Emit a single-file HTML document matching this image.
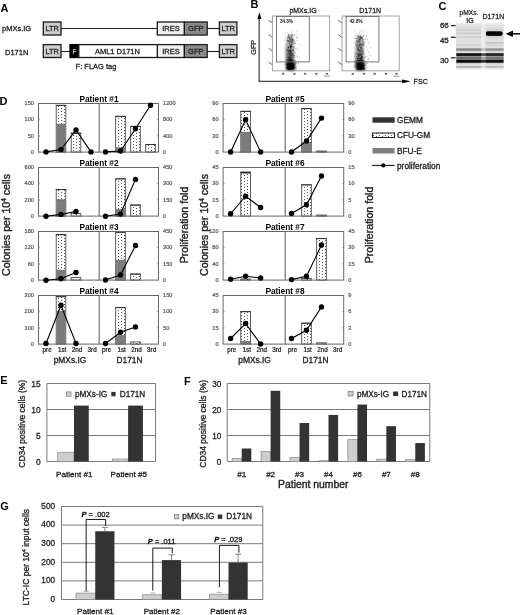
<!DOCTYPE html>
<html><head><meta charset="utf-8"><title>Figure</title>
<style>html,body{margin:0;padding:0;background:#fff;}body{width:520px;height:615px;overflow:hidden;font-family:"Liberation Sans", sans-serif;}svg{display:block;will-change:transform;}</style>
</head><body>
<svg width="520" height="615" viewBox="0 0 520 615" font-family='"Liberation Sans", sans-serif'><defs>
<pattern id="dots" width="6" height="6" patternUnits="userSpaceOnUse" x="0" y="0"><rect width="6" height="6" fill="#fff"/><rect x="1" y="0" width="1" height="1" fill="#555"/><rect x="1" y="3" width="1" height="1" fill="#555"/><rect x="4" y="1" width="1" height="1" fill="#555"/><rect x="4" y="4" width="1" height="1" fill="#555"/></pattern>
<pattern id="ires" width="2" height="2" patternUnits="userSpaceOnUse"><rect width="2" height="2" fill="#f4f4f4"/><rect x="0" y="0" width="0.7" height="0.7" fill="#ddd"/></pattern>
<pattern id="gfp" width="2" height="2" patternUnits="userSpaceOnUse"><rect width="2" height="2" fill="#8c8c8c"/><rect x="0" y="0" width="0.8" height="0.8" fill="#6e6e6e"/><rect x="1" y="1" width="0.6" height="0.6" fill="#a8a8a8"/></pattern>
<filter id="blur15" x="-50%" y="-50%" width="200%" height="200%"><feGaussianBlur stdDeviation="1.3"/></filter>
<linearGradient id="colgrad" x1="0" y1="0" x2="0" y2="1"><stop offset="0" stop-color="#000" stop-opacity="0"/><stop offset="0.3" stop-color="#000" stop-opacity="0.25"/><stop offset="1" stop-color="#000" stop-opacity="0.55"/></linearGradient>
<linearGradient id="bandg" x1="0" y1="0" x2="0" y2="1"><stop offset="0" stop-color="#000" stop-opacity="0"/><stop offset="0.3" stop-color="#000" stop-opacity="0.9"/><stop offset="0.5" stop-color="#000" stop-opacity="1"/><stop offset="0.7" stop-color="#000" stop-opacity="0.9"/><stop offset="1" stop-color="#000" stop-opacity="0"/></linearGradient>
<linearGradient id="blotbg" x1="0" y1="0" x2="0" y2="1"><stop offset="0" stop-color="#e8e8e8"/><stop offset="0.08" stop-color="#e0e0e0"/><stop offset="0.92" stop-color="#e0e0e0"/><stop offset="1" stop-color="#eaeaea"/></linearGradient>
<filter id="blur1" x="-5%" y="-5%" width="110%" height="110%"><feGaussianBlur stdDeviation="0.8"/></filter>
</defs><rect width="520" height="615" fill="#fff"/><text x="0.60" y="12.30" font-size="11" text-anchor="start" font-weight="bold" font-style="normal" fill="#000" >A</text>
<text x="2.00" y="31.00" font-size="7.5" text-anchor="start" font-weight="normal" font-style="normal" fill="#222" stroke="#222" stroke-width="0.27" >pMXs.IG</text>
<text x="5.00" y="54.60" font-size="7.5" text-anchor="start" font-weight="normal" font-style="normal" fill="#222" stroke="#222" stroke-width="0.27" >D171N</text>
<rect x="43.30" y="22.00" width="17.70" height="13.00" fill="#cfcfcf" stroke="#1a1a1a" stroke-width="1.3" />
<text x="52.20" y="31.20" font-size="7.5" text-anchor="middle" font-weight="normal" font-style="normal" fill="#222" stroke="#222" stroke-width="0.27" >LTR</text>
<rect x="157.30" y="22.00" width="27.10" height="13.00" fill="url(#ires)" stroke="#1a1a1a" stroke-width="1.3" />
<text x="170.90" y="31.20" font-size="7.5" text-anchor="middle" font-weight="normal" font-style="normal" fill="#222" stroke="#222" stroke-width="0.27" >IRES</text>
<rect x="184.40" y="22.00" width="22.80" height="13.00" fill="url(#gfp)" stroke="#1a1a1a" stroke-width="1.3" />
<text x="195.80" y="31.20" font-size="7.5" text-anchor="middle" font-weight="normal" font-style="normal" fill="#222" stroke="#222" stroke-width="0.27" >GFP</text>
<line x1="207.20" y1="28.50" x2="219.40" y2="28.50" stroke="#222" stroke-width="1.1" />
<rect x="219.40" y="22.00" width="17.50" height="13.00" fill="#cfcfcf" stroke="#1a1a1a" stroke-width="1.3" />
<text x="228.20" y="31.20" font-size="7.5" text-anchor="middle" font-weight="normal" font-style="normal" fill="#222" stroke="#222" stroke-width="0.27" >LTR</text>
<rect x="43.30" y="44.60" width="17.70" height="12.90" fill="#cfcfcf" stroke="#1a1a1a" stroke-width="1.3" />
<text x="52.20" y="53.75" font-size="7.5" text-anchor="middle" font-weight="normal" font-style="normal" fill="#222" stroke="#222" stroke-width="0.27" >LTR</text>
<rect x="157.30" y="44.60" width="27.10" height="12.90" fill="url(#ires)" stroke="#1a1a1a" stroke-width="1.3" />
<text x="170.90" y="53.75" font-size="7.5" text-anchor="middle" font-weight="normal" font-style="normal" fill="#222" stroke="#222" stroke-width="0.27" >IRES</text>
<rect x="184.40" y="44.60" width="22.80" height="12.90" fill="url(#gfp)" stroke="#1a1a1a" stroke-width="1.3" />
<text x="195.80" y="53.75" font-size="7.5" text-anchor="middle" font-weight="normal" font-style="normal" fill="#222" stroke="#222" stroke-width="0.27" >GFP</text>
<line x1="207.20" y1="51.50" x2="219.40" y2="51.50" stroke="#222" stroke-width="1.1" />
<rect x="219.40" y="44.60" width="17.50" height="12.90" fill="#cfcfcf" stroke="#1a1a1a" stroke-width="1.3" />
<text x="228.20" y="53.75" font-size="7.5" text-anchor="middle" font-weight="normal" font-style="normal" fill="#222" stroke="#222" stroke-width="0.27" >LTR</text>
<line x1="61.00" y1="28.50" x2="157.30" y2="28.50" stroke="#222" stroke-width="1.1" />
<line x1="61.00" y1="51.50" x2="70.00" y2="51.50" stroke="#222" stroke-width="1.1" />
<rect x="70.00" y="44.60" width="8.80" height="12.90" fill="#000" stroke="#000" stroke-width="1.3" />
<text x="74.40" y="53.50" font-size="6.5" text-anchor="middle" font-weight="bold" font-style="normal" fill="#bbb" >F</text>
<rect x="78.80" y="44.60" width="78.50" height="12.90" fill="#fff" stroke="#1a1a1a" stroke-width="1.3" />
<text x="117.40" y="53.70" font-size="7.5" text-anchor="middle" font-weight="normal" font-style="normal" fill="#222" stroke="#222" stroke-width="0.27" >AML1 D171N</text>
<text x="75.60" y="68.60" font-size="7.5" text-anchor="start" font-weight="normal" font-style="normal" fill="#222" stroke="#222" stroke-width="0.27" >F: FLAG tag</text>
<text x="250.60" y="8.40" font-size="11" text-anchor="start" font-weight="bold" font-style="normal" fill="#000" >B</text>
<line x1="259.20" y1="16.00" x2="259.20" y2="81.30" stroke="#555" stroke-width="1.4" />
<polygon points="259.4,12.3 257.4,19 261.4,19" fill="#000"/>
<line x1="258.50" y1="81.30" x2="404.00" y2="81.30" stroke="#444" stroke-width="1.3" />
<polygon points="410.8,81.3 402,79.4 402,83.2" fill="#000"/>
<text x="413.60" y="84.20" font-size="7.1" text-anchor="start" font-weight="normal" font-style="normal" fill="#222" stroke="#222" stroke-width="0.256" >FSC</text>
<text x="0.00" y="0.00" font-size="7.3" text-anchor="middle" font-weight="normal" font-style="normal" fill="#222" stroke="#222" stroke-width="0.263" transform="translate(255.6,47.3) rotate(-90)">GFP</text>
<text x="303.00" y="12.60" font-size="7.0" text-anchor="middle" font-weight="normal" font-style="normal" fill="#222" stroke="#222" stroke-width="0.252" >pMXs.IG</text>
<g filter="url(#blur15)">
<rect x="285.60" y="33" width="8.4" height="31" fill="url(#colgrad)"/>
<rect x="286.00" y="61.2" width="9.2" height="9.4" rx="2.8" fill="#111"/>
</g>
<g fill="#000" fill-opacity="0.35"><rect x="291.4" y="62.3" width="0.8" height="0.8"/><rect x="289.4" y="51.1" width="0.8" height="0.8"/><rect x="289.4" y="67.0" width="0.8" height="0.8"/><rect x="286.2" y="68.7" width="0.8" height="0.8"/><rect x="290.8" y="69.9" width="0.8" height="0.8"/><rect x="289.2" y="70.0" width="0.8" height="0.8"/><rect x="289.1" y="67.9" width="0.8" height="0.8"/><rect x="288.7" y="68.1" width="0.8" height="0.8"/><rect x="290.9" y="57.8" width="0.8" height="0.8"/><rect x="288.5" y="50.0" width="0.8" height="0.8"/><rect x="290.5" y="65.5" width="0.8" height="0.8"/><rect x="288.0" y="47.7" width="0.8" height="0.8"/><rect x="290.3" y="45.1" width="0.8" height="0.8"/><rect x="292.3" y="39.2" width="0.8" height="0.8"/><rect x="289.4" y="34.8" width="0.8" height="0.8"/><rect x="289.8" y="50.8" width="0.8" height="0.8"/><rect x="288.2" y="63.0" width="0.8" height="0.8"/><rect x="291.0" y="44.6" width="0.8" height="0.8"/><rect x="288.0" y="39.9" width="0.8" height="0.8"/><rect x="287.2" y="32.5" width="0.8" height="0.8"/><rect x="290.3" y="48.5" width="0.8" height="0.8"/><rect x="289.6" y="54.1" width="0.8" height="0.8"/><rect x="289.4" y="59.6" width="0.8" height="0.8"/><rect x="290.2" y="60.1" width="0.8" height="0.8"/><rect x="295.8" y="33.3" width="0.8" height="0.8"/><rect x="286.0" y="40.5" width="0.8" height="0.8"/><rect x="291.7" y="44.7" width="0.8" height="0.8"/><rect x="295.9" y="69.3" width="0.8" height="0.8"/><rect x="291.0" y="68.2" width="0.8" height="0.8"/><rect x="287.0" y="66.9" width="0.8" height="0.8"/><rect x="291.8" y="54.6" width="0.8" height="0.8"/><rect x="292.6" y="50.1" width="0.8" height="0.8"/><rect x="289.5" y="38.2" width="0.8" height="0.8"/><rect x="292.2" y="52.7" width="0.8" height="0.8"/><rect x="291.9" y="62.1" width="0.8" height="0.8"/><rect x="290.6" y="68.0" width="0.8" height="0.8"/><rect x="289.8" y="59.7" width="0.8" height="0.8"/><rect x="289.8" y="67.0" width="0.8" height="0.8"/><rect x="290.8" y="40.3" width="0.8" height="0.8"/><rect x="289.1" y="56.1" width="0.8" height="0.8"/><rect x="297.0" y="49.1" width="0.8" height="0.8"/><rect x="290.6" y="55.5" width="0.8" height="0.8"/><rect x="290.3" y="61.3" width="0.8" height="0.8"/><rect x="290.4" y="52.3" width="0.8" height="0.8"/><rect x="290.0" y="60.1" width="0.8" height="0.8"/><rect x="290.6" y="58.5" width="0.8" height="0.8"/><rect x="289.0" y="43.2" width="0.8" height="0.8"/><rect x="290.1" y="57.3" width="0.8" height="0.8"/><rect x="293.5" y="41.4" width="0.8" height="0.8"/><rect x="289.7" y="49.8" width="0.8" height="0.8"/><rect x="290.2" y="56.9" width="0.8" height="0.8"/><rect x="288.1" y="50.2" width="0.8" height="0.8"/><rect x="301.0" y="45.0" width="0.8" height="0.8"/><rect x="289.8" y="66.8" width="0.8" height="0.8"/><rect x="291.8" y="62.9" width="0.8" height="0.8"/><rect x="287.0" y="49.7" width="0.8" height="0.8"/><rect x="290.0" y="45.8" width="0.8" height="0.8"/><rect x="293.5" y="49.6" width="0.8" height="0.8"/><rect x="286.3" y="67.1" width="0.8" height="0.8"/><rect x="288.1" y="35.2" width="0.8" height="0.8"/><rect x="294.5" y="59.7" width="0.8" height="0.8"/><rect x="291.2" y="67.6" width="0.8" height="0.8"/><rect x="293.0" y="63.9" width="0.8" height="0.8"/><rect x="290.5" y="56.9" width="0.8" height="0.8"/><rect x="288.8" y="61.7" width="0.8" height="0.8"/><rect x="289.8" y="68.3" width="0.8" height="0.8"/><rect x="287.9" y="39.7" width="0.8" height="0.8"/><rect x="288.6" y="56.6" width="0.8" height="0.8"/><rect x="292.3" y="54.8" width="0.8" height="0.8"/><rect x="292.9" y="50.3" width="0.8" height="0.8"/><rect x="287.7" y="36.6" width="0.8" height="0.8"/><rect x="289.8" y="61.3" width="0.8" height="0.8"/><rect x="290.8" y="67.0" width="0.8" height="0.8"/><rect x="288.7" y="43.4" width="0.8" height="0.8"/><rect x="289.2" y="49.5" width="0.8" height="0.8"/><rect x="288.9" y="57.3" width="0.8" height="0.8"/><rect x="293.0" y="49.4" width="0.8" height="0.8"/><rect x="285.6" y="46.5" width="0.8" height="0.8"/><rect x="289.7" y="51.3" width="0.8" height="0.8"/><rect x="291.5" y="58.7" width="0.8" height="0.8"/><rect x="294.8" y="52.9" width="0.8" height="0.8"/><rect x="291.3" y="64.4" width="0.8" height="0.8"/><rect x="292.1" y="68.4" width="0.8" height="0.8"/><rect x="290.3" y="67.5" width="0.8" height="0.8"/><rect x="290.7" y="57.5" width="0.8" height="0.8"/><rect x="289.2" y="38.6" width="0.8" height="0.8"/><rect x="293.9" y="46.3" width="0.8" height="0.8"/><rect x="294.4" y="35.6" width="0.8" height="0.8"/><rect x="288.8" y="50.2" width="0.8" height="0.8"/><rect x="290.9" y="45.6" width="0.8" height="0.8"/><rect x="290.1" y="61.2" width="0.8" height="0.8"/><rect x="292.1" y="63.0" width="0.8" height="0.8"/><rect x="291.7" y="34.3" width="0.8" height="0.8"/><rect x="293.0" y="57.5" width="0.8" height="0.8"/><rect x="285.5" y="69.1" width="0.8" height="0.8"/><rect x="289.7" y="38.4" width="0.8" height="0.8"/><rect x="289.5" y="60.9" width="0.8" height="0.8"/><rect x="289.1" y="37.3" width="0.8" height="0.8"/><rect x="290.1" y="39.5" width="0.8" height="0.8"/><rect x="291.9" y="64.6" width="0.8" height="0.8"/><rect x="285.7" y="56.4" width="0.8" height="0.8"/><rect x="288.5" y="66.3" width="0.8" height="0.8"/><rect x="290.6" y="67.3" width="0.8" height="0.8"/><rect x="289.4" y="68.5" width="0.8" height="0.8"/><rect x="289.2" y="60.3" width="0.8" height="0.8"/><rect x="291.2" y="62.0" width="0.8" height="0.8"/><rect x="288.6" y="51.5" width="0.8" height="0.8"/><rect x="297.4" y="47.7" width="0.8" height="0.8"/><rect x="292.0" y="39.7" width="0.8" height="0.8"/><rect x="291.2" y="34.6" width="0.8" height="0.8"/><rect x="292.8" y="46.2" width="0.8" height="0.8"/><rect x="291.5" y="67.2" width="0.8" height="0.8"/><rect x="290.3" y="57.6" width="0.8" height="0.8"/><rect x="293.6" y="65.7" width="0.8" height="0.8"/><rect x="289.5" y="57.3" width="0.8" height="0.8"/><rect x="290.9" y="58.1" width="0.8" height="0.8"/><rect x="296.6" y="40.0" width="0.8" height="0.8"/><rect x="291.5" y="42.7" width="0.8" height="0.8"/><rect x="291.7" y="51.8" width="0.8" height="0.8"/><rect x="290.5" y="63.1" width="0.8" height="0.8"/><rect x="291.4" y="62.1" width="0.8" height="0.8"/><rect x="289.6" y="68.2" width="0.8" height="0.8"/><rect x="286.7" y="46.0" width="0.8" height="0.8"/><rect x="291.2" y="55.0" width="0.8" height="0.8"/><rect x="295.6" y="56.4" width="0.8" height="0.8"/><rect x="293.3" y="69.2" width="0.8" height="0.8"/><rect x="286.4" y="44.2" width="0.8" height="0.8"/><rect x="288.8" y="51.8" width="0.8" height="0.8"/><rect x="286.9" y="53.9" width="0.8" height="0.8"/><rect x="290.1" y="39.4" width="0.8" height="0.8"/><rect x="286.8" y="68.1" width="0.8" height="0.8"/><rect x="291.9" y="68.2" width="0.8" height="0.8"/><rect x="287.7" y="46.8" width="0.8" height="0.8"/><rect x="287.7" y="67.8" width="0.8" height="0.8"/><rect x="286.8" y="49.8" width="0.8" height="0.8"/><rect x="289.2" y="58.2" width="0.8" height="0.8"/><rect x="290.5" y="58.4" width="0.8" height="0.8"/><rect x="284.6" y="52.8" width="0.8" height="0.8"/><rect x="290.2" y="47.3" width="0.8" height="0.8"/><rect x="289.4" y="66.5" width="0.8" height="0.8"/><rect x="292.9" y="49.4" width="0.8" height="0.8"/><rect x="289.9" y="45.4" width="0.8" height="0.8"/><rect x="287.1" y="49.5" width="0.8" height="0.8"/><rect x="290.8" y="67.9" width="0.8" height="0.8"/><rect x="290.9" y="68.4" width="0.8" height="0.8"/><rect x="285.9" y="67.7" width="0.8" height="0.8"/><rect x="289.7" y="38.6" width="0.8" height="0.8"/><rect x="293.2" y="38.6" width="0.8" height="0.8"/><rect x="291.3" y="37.6" width="0.8" height="0.8"/><rect x="291.4" y="64.0" width="0.8" height="0.8"/><rect x="291.6" y="66.8" width="0.8" height="0.8"/><rect x="288.5" y="62.9" width="0.8" height="0.8"/><rect x="289.8" y="56.9" width="0.8" height="0.8"/><rect x="291.1" y="42.1" width="0.8" height="0.8"/><rect x="292.4" y="34.9" width="0.8" height="0.8"/><rect x="290.6" y="41.9" width="0.8" height="0.8"/><rect x="285.8" y="55.3" width="0.8" height="0.8"/><rect x="289.8" y="53.0" width="0.8" height="0.8"/><rect x="290.9" y="67.6" width="0.8" height="0.8"/><rect x="289.8" y="40.2" width="0.8" height="0.8"/><rect x="288.6" y="54.5" width="0.8" height="0.8"/><rect x="297.1" y="55.9" width="0.8" height="0.8"/><rect x="288.0" y="68.6" width="0.8" height="0.8"/><rect x="289.7" y="43.7" width="0.8" height="0.8"/><rect x="289.8" y="55.3" width="0.8" height="0.8"/><rect x="291.3" y="66.0" width="0.8" height="0.8"/><rect x="288.9" y="44.5" width="0.8" height="0.8"/><rect x="292.0" y="42.3" width="0.8" height="0.8"/><rect x="292.6" y="54.2" width="0.8" height="0.8"/><rect x="291.4" y="68.9" width="0.8" height="0.8"/><rect x="286.3" y="60.1" width="0.8" height="0.8"/><rect x="290.6" y="60.9" width="0.8" height="0.8"/><rect x="291.3" y="38.9" width="0.8" height="0.8"/><rect x="287.8" y="49.7" width="0.8" height="0.8"/><rect x="291.7" y="65.5" width="0.8" height="0.8"/><rect x="296.4" y="63.2" width="0.8" height="0.8"/><rect x="292.2" y="38.9" width="0.8" height="0.8"/><rect x="289.8" y="53.6" width="0.8" height="0.8"/><rect x="296.4" y="30.9" width="0.8" height="0.8"/><rect x="286.2" y="65.3" width="0.8" height="0.8"/><rect x="285.9" y="49.5" width="0.8" height="0.8"/><rect x="292.3" y="63.8" width="0.8" height="0.8"/><rect x="294.9" y="34.5" width="0.8" height="0.8"/><rect x="289.9" y="63.0" width="0.8" height="0.8"/><rect x="291.6" y="59.6" width="0.8" height="0.8"/><rect x="290.0" y="48.4" width="0.8" height="0.8"/><rect x="290.6" y="64.9" width="0.8" height="0.8"/><rect x="290.5" y="35.2" width="0.8" height="0.8"/><rect x="288.5" y="46.8" width="0.8" height="0.8"/><rect x="289.1" y="63.5" width="0.8" height="0.8"/><rect x="289.4" y="58.0" width="0.8" height="0.8"/><rect x="289.6" y="53.5" width="0.8" height="0.8"/><rect x="291.0" y="49.5" width="0.8" height="0.8"/><rect x="289.7" y="51.3" width="0.8" height="0.8"/><rect x="288.5" y="46.4" width="0.8" height="0.8"/><rect x="292.4" y="43.9" width="0.8" height="0.8"/><rect x="290.3" y="46.1" width="0.8" height="0.8"/><rect x="293.0" y="51.6" width="0.8" height="0.8"/><rect x="294.6" y="41.2" width="0.8" height="0.8"/><rect x="291.1" y="57.6" width="0.8" height="0.8"/><rect x="289.4" y="67.0" width="0.8" height="0.8"/><rect x="291.7" y="37.4" width="0.8" height="0.8"/><rect x="292.1" y="67.9" width="0.8" height="0.8"/><rect x="290.0" y="68.8" width="0.8" height="0.8"/><rect x="293.6" y="66.2" width="0.8" height="0.8"/><rect x="294.2" y="55.6" width="0.8" height="0.8"/><rect x="293.9" y="65.0" width="0.8" height="0.8"/><rect x="289.0" y="64.6" width="0.8" height="0.8"/><rect x="289.2" y="62.5" width="0.8" height="0.8"/><rect x="287.0" y="62.2" width="0.8" height="0.8"/><rect x="293.2" y="63.7" width="0.8" height="0.8"/><rect x="295.5" y="47.7" width="0.8" height="0.8"/><rect x="287.9" y="67.0" width="0.8" height="0.8"/><rect x="293.5" y="66.8" width="0.8" height="0.8"/><rect x="292.3" y="62.9" width="0.8" height="0.8"/><rect x="291.6" y="61.9" width="0.8" height="0.8"/><rect x="292.6" y="40.5" width="0.8" height="0.8"/><rect x="291.2" y="56.5" width="0.8" height="0.8"/><rect x="290.3" y="59.4" width="0.8" height="0.8"/><rect x="288.8" y="58.6" width="0.8" height="0.8"/><rect x="292.4" y="56.0" width="0.8" height="0.8"/><rect x="294.8" y="49.5" width="0.8" height="0.8"/><rect x="292.7" y="69.1" width="0.8" height="0.8"/><rect x="289.8" y="52.3" width="0.8" height="0.8"/><rect x="294.9" y="60.3" width="0.8" height="0.8"/><rect x="298.1" y="61.7" width="0.8" height="0.8"/><rect x="289.0" y="55.6" width="0.8" height="0.8"/><rect x="290.9" y="43.6" width="0.8" height="0.8"/><rect x="290.8" y="66.8" width="0.8" height="0.8"/><rect x="287.4" y="41.5" width="0.8" height="0.8"/><rect x="292.2" y="34.0" width="0.8" height="0.8"/><rect x="290.6" y="44.0" width="0.8" height="0.8"/><rect x="290.3" y="46.7" width="0.8" height="0.8"/><rect x="287.1" y="57.2" width="0.8" height="0.8"/><rect x="291.3" y="64.9" width="0.8" height="0.8"/><rect x="287.6" y="59.9" width="0.8" height="0.8"/><rect x="290.2" y="68.0" width="0.8" height="0.8"/><rect x="289.6" y="46.2" width="0.8" height="0.8"/><rect x="290.8" y="50.8" width="0.8" height="0.8"/><rect x="291.5" y="63.3" width="0.8" height="0.8"/><rect x="295.5" y="63.6" width="0.8" height="0.8"/><rect x="294.7" y="67.5" width="0.8" height="0.8"/><rect x="289.9" y="67.8" width="0.8" height="0.8"/><rect x="293.3" y="66.1" width="0.8" height="0.8"/><rect x="287.4" y="48.4" width="0.8" height="0.8"/><rect x="292.5" y="43.0" width="0.8" height="0.8"/><rect x="289.5" y="47.7" width="0.8" height="0.8"/><rect x="292.5" y="67.1" width="0.8" height="0.8"/><rect x="291.2" y="46.6" width="0.8" height="0.8"/><rect x="290.1" y="46.0" width="0.8" height="0.8"/><rect x="292.1" y="67.4" width="0.8" height="0.8"/><rect x="287.3" y="68.5" width="0.8" height="0.8"/><rect x="290.9" y="47.4" width="0.8" height="0.8"/><rect x="290.4" y="53.4" width="0.8" height="0.8"/><rect x="295.2" y="42.8" width="0.8" height="0.8"/><rect x="288.6" y="40.5" width="0.8" height="0.8"/><rect x="290.8" y="59.8" width="0.8" height="0.8"/><rect x="290.0" y="39.4" width="0.8" height="0.8"/><rect x="292.0" y="60.7" width="0.8" height="0.8"/><rect x="290.0" y="39.3" width="0.8" height="0.8"/><rect x="291.2" y="51.4" width="0.8" height="0.8"/><rect x="291.0" y="38.5" width="0.8" height="0.8"/><rect x="291.2" y="36.3" width="0.8" height="0.8"/><rect x="294.0" y="70.0" width="0.8" height="0.8"/><rect x="293.9" y="54.9" width="0.8" height="0.8"/><rect x="287.5" y="36.6" width="0.8" height="0.8"/><rect x="287.4" y="56.6" width="0.8" height="0.8"/><rect x="296.1" y="37.5" width="0.8" height="0.8"/><rect x="287.9" y="68.3" width="0.8" height="0.8"/><rect x="290.8" y="44.8" width="0.8" height="0.8"/><rect x="296.7" y="61.1" width="0.8" height="0.8"/><rect x="291.0" y="67.2" width="0.8" height="0.8"/><rect x="289.0" y="49.0" width="0.8" height="0.8"/><rect x="288.6" y="47.3" width="0.8" height="0.8"/><rect x="291.1" y="54.1" width="0.8" height="0.8"/><rect x="290.2" y="58.0" width="0.8" height="0.8"/><rect x="286.5" y="58.6" width="0.8" height="0.8"/><rect x="290.4" y="65.6" width="0.8" height="0.8"/><rect x="290.2" y="52.1" width="0.8" height="0.8"/><rect x="291.1" y="66.2" width="0.8" height="0.8"/><rect x="286.5" y="60.4" width="0.8" height="0.8"/><rect x="292.2" y="35.6" width="0.8" height="0.8"/><rect x="298.0" y="63.4" width="0.8" height="0.8"/><rect x="290.1" y="69.4" width="0.8" height="0.8"/><rect x="291.8" y="67.6" width="0.8" height="0.8"/><rect x="291.5" y="61.2" width="0.8" height="0.8"/><rect x="287.8" y="69.8" width="0.8" height="0.8"/><rect x="291.7" y="65.4" width="0.8" height="0.8"/><rect x="291.2" y="38.7" width="0.8" height="0.8"/><rect x="290.0" y="69.4" width="0.8" height="0.8"/><rect x="291.0" y="59.6" width="0.8" height="0.8"/><rect x="289.1" y="36.9" width="0.8" height="0.8"/><rect x="286.2" y="59.0" width="0.8" height="0.8"/><rect x="289.3" y="38.1" width="0.8" height="0.8"/><rect x="290.7" y="34.3" width="0.8" height="0.8"/><rect x="289.9" y="62.7" width="0.8" height="0.8"/><rect x="288.4" y="34.5" width="0.8" height="0.8"/><rect x="289.0" y="53.4" width="0.8" height="0.8"/><rect x="293.7" y="67.4" width="0.8" height="0.8"/><rect x="288.5" y="34.3" width="0.8" height="0.8"/><rect x="288.4" y="62.5" width="0.8" height="0.8"/><rect x="290.0" y="50.8" width="0.8" height="0.8"/><rect x="289.8" y="67.1" width="0.8" height="0.8"/><rect x="293.7" y="68.8" width="0.8" height="0.8"/><rect x="290.2" y="65.5" width="0.8" height="0.8"/><rect x="290.9" y="48.8" width="0.8" height="0.8"/><rect x="292.3" y="60.7" width="0.8" height="0.8"/><rect x="289.5" y="69.4" width="0.8" height="0.8"/><rect x="295.1" y="62.1" width="0.8" height="0.8"/><rect x="289.8" y="46.9" width="0.8" height="0.8"/><rect x="288.2" y="53.8" width="0.8" height="0.8"/><rect x="292.0" y="67.0" width="0.8" height="0.8"/><rect x="288.4" y="64.2" width="0.8" height="0.8"/><rect x="291.7" y="61.2" width="0.8" height="0.8"/><rect x="288.4" y="67.6" width="0.8" height="0.8"/><rect x="292.3" y="47.1" width="0.8" height="0.8"/><rect x="288.7" y="58.4" width="0.8" height="0.8"/><rect x="291.0" y="46.5" width="0.8" height="0.8"/><rect x="289.9" y="52.0" width="0.8" height="0.8"/><rect x="287.6" y="68.0" width="0.8" height="0.8"/><rect x="291.3" y="64.6" width="0.8" height="0.8"/><rect x="292.5" y="40.1" width="0.8" height="0.8"/><rect x="288.3" y="53.1" width="0.8" height="0.8"/><rect x="287.6" y="47.5" width="0.8" height="0.8"/><rect x="291.8" y="30.6" width="0.8" height="0.8"/><rect x="290.1" y="38.6" width="0.8" height="0.8"/><rect x="288.0" y="57.5" width="0.8" height="0.8"/><rect x="293.0" y="64.7" width="0.8" height="0.8"/><rect x="287.1" y="49.5" width="0.8" height="0.8"/><rect x="290.1" y="47.9" width="0.8" height="0.8"/><rect x="286.3" y="48.7" width="0.8" height="0.8"/><rect x="291.0" y="61.5" width="0.8" height="0.8"/><rect x="292.5" y="60.2" width="0.8" height="0.8"/><rect x="289.9" y="46.5" width="0.8" height="0.8"/><rect x="286.5" y="64.7" width="0.8" height="0.8"/><rect x="288.8" y="41.4" width="0.8" height="0.8"/><rect x="291.5" y="67.5" width="0.8" height="0.8"/><rect x="294.2" y="34.6" width="0.8" height="0.8"/><rect x="291.2" y="69.1" width="0.8" height="0.8"/><rect x="287.0" y="40.4" width="0.8" height="0.8"/><rect x="288.7" y="69.9" width="0.8" height="0.8"/><rect x="292.5" y="65.5" width="0.8" height="0.8"/><rect x="292.5" y="66.5" width="0.8" height="0.8"/><rect x="291.3" y="53.5" width="0.8" height="0.8"/><rect x="294.2" y="39.9" width="0.8" height="0.8"/><rect x="289.5" y="52.9" width="0.8" height="0.8"/><rect x="288.1" y="50.4" width="0.8" height="0.8"/><rect x="294.9" y="67.2" width="0.8" height="0.8"/><rect x="288.9" y="67.8" width="0.8" height="0.8"/><rect x="298.0" y="30.2" width="0.8" height="0.8"/><rect x="286.4" y="59.1" width="0.8" height="0.8"/><rect x="287.7" y="58.8" width="0.8" height="0.8"/><rect x="291.8" y="58.7" width="0.8" height="0.8"/><rect x="291.1" y="60.2" width="0.8" height="0.8"/><rect x="289.2" y="45.4" width="0.8" height="0.8"/><rect x="287.2" y="52.1" width="0.8" height="0.8"/><rect x="293.3" y="67.0" width="0.8" height="0.8"/><rect x="289.9" y="66.2" width="0.8" height="0.8"/><rect x="293.9" y="54.9" width="0.8" height="0.8"/><rect x="288.9" y="50.2" width="0.8" height="0.8"/><rect x="286.6" y="54.9" width="0.8" height="0.8"/><rect x="294.1" y="57.1" width="0.8" height="0.8"/><rect x="290.8" y="43.6" width="0.8" height="0.8"/><rect x="291.3" y="39.8" width="0.8" height="0.8"/><rect x="290.9" y="68.5" width="0.8" height="0.8"/><rect x="290.4" y="59.1" width="0.8" height="0.8"/><rect x="288.9" y="69.2" width="0.8" height="0.8"/><rect x="289.5" y="68.0" width="0.8" height="0.8"/><rect x="292.1" y="69.5" width="0.8" height="0.8"/><rect x="289.1" y="61.5" width="0.8" height="0.8"/><rect x="293.4" y="43.4" width="0.8" height="0.8"/><rect x="290.3" y="60.8" width="0.8" height="0.8"/><rect x="292.5" y="63.2" width="0.8" height="0.8"/><rect x="291.8" y="50.3" width="0.8" height="0.8"/><rect x="288.2" y="64.7" width="0.8" height="0.8"/><rect x="288.6" y="37.0" width="0.8" height="0.8"/><rect x="290.9" y="53.4" width="0.8" height="0.8"/><rect x="297.9" y="61.7" width="0.8" height="0.8"/><rect x="291.5" y="45.6" width="0.8" height="0.8"/><rect x="288.8" y="62.0" width="0.8" height="0.8"/><rect x="290.4" y="45.7" width="0.8" height="0.8"/><rect x="287.9" y="48.0" width="0.8" height="0.8"/><rect x="287.8" y="57.0" width="0.8" height="0.8"/><rect x="290.1" y="50.3" width="0.8" height="0.8"/><rect x="296.6" y="36.6" width="0.8" height="0.8"/><rect x="290.4" y="36.6" width="0.8" height="0.8"/><rect x="289.7" y="49.6" width="0.8" height="0.8"/><rect x="287.6" y="39.8" width="0.8" height="0.8"/><rect x="291.8" y="38.6" width="0.8" height="0.8"/><rect x="287.3" y="61.3" width="0.8" height="0.8"/><rect x="291.6" y="41.2" width="0.8" height="0.8"/><rect x="290.3" y="61.0" width="0.8" height="0.8"/><rect x="290.8" y="55.0" width="0.8" height="0.8"/><rect x="291.1" y="36.4" width="0.8" height="0.8"/><rect x="289.6" y="54.1" width="0.8" height="0.8"/><rect x="290.8" y="40.7" width="0.8" height="0.8"/><rect x="288.2" y="59.0" width="0.8" height="0.8"/><rect x="289.4" y="41.6" width="0.8" height="0.8"/><rect x="287.8" y="51.0" width="0.8" height="0.8"/><rect x="292.3" y="40.0" width="0.8" height="0.8"/><rect x="291.6" y="53.1" width="0.8" height="0.8"/><rect x="289.9" y="56.8" width="0.8" height="0.8"/><rect x="291.4" y="52.1" width="0.8" height="0.8"/><rect x="287.7" y="37.7" width="0.8" height="0.8"/><rect x="291.3" y="67.1" width="0.8" height="0.8"/><rect x="292.1" y="48.6" width="0.8" height="0.8"/><rect x="296.1" y="67.0" width="0.8" height="0.8"/><rect x="289.8" y="60.3" width="0.8" height="0.8"/><rect x="290.6" y="64.4" width="0.8" height="0.8"/><rect x="293.7" y="64.2" width="0.8" height="0.8"/><rect x="292.7" y="64.5" width="0.8" height="0.8"/><rect x="287.8" y="40.3" width="0.8" height="0.8"/><rect x="294.0" y="51.8" width="0.8" height="0.8"/><rect x="292.6" y="53.7" width="0.8" height="0.8"/><rect x="288.2" y="58.7" width="0.8" height="0.8"/><rect x="292.3" y="65.3" width="0.8" height="0.8"/><rect x="290.0" y="49.2" width="0.8" height="0.8"/><rect x="289.0" y="68.1" width="0.8" height="0.8"/><rect x="288.0" y="46.6" width="0.8" height="0.8"/><rect x="288.2" y="37.6" width="0.8" height="0.8"/><rect x="291.0" y="60.6" width="0.8" height="0.8"/><rect x="288.9" y="43.5" width="0.8" height="0.8"/><rect x="288.3" y="66.8" width="0.8" height="0.8"/><rect x="290.0" y="65.9" width="0.8" height="0.8"/><rect x="287.2" y="39.0" width="0.8" height="0.8"/><rect x="291.4" y="43.0" width="0.8" height="0.8"/><rect x="291.8" y="49.9" width="0.8" height="0.8"/><rect x="289.7" y="46.6" width="0.8" height="0.8"/><rect x="289.5" y="37.1" width="0.8" height="0.8"/><rect x="290.2" y="55.1" width="0.8" height="0.8"/><rect x="287.5" y="41.6" width="0.8" height="0.8"/><rect x="289.3" y="61.7" width="0.8" height="0.8"/><rect x="291.3" y="62.2" width="0.8" height="0.8"/><rect x="293.1" y="65.0" width="0.8" height="0.8"/><rect x="290.8" y="45.6" width="0.8" height="0.8"/><rect x="287.7" y="47.1" width="0.8" height="0.8"/><rect x="290.5" y="53.7" width="0.8" height="0.8"/><rect x="290.8" y="62.0" width="0.8" height="0.8"/><rect x="292.2" y="53.9" width="0.8" height="0.8"/><rect x="293.3" y="40.6" width="0.8" height="0.8"/><rect x="287.4" y="52.8" width="0.8" height="0.8"/><rect x="291.6" y="38.5" width="0.8" height="0.8"/><rect x="291.2" y="69.8" width="0.8" height="0.8"/><rect x="292.2" y="37.7" width="0.8" height="0.8"/><rect x="289.9" y="50.9" width="0.8" height="0.8"/><rect x="287.8" y="54.6" width="0.8" height="0.8"/><rect x="292.3" y="66.8" width="0.8" height="0.8"/><rect x="290.5" y="66.1" width="0.8" height="0.8"/><rect x="290.7" y="33.6" width="0.8" height="0.8"/><rect x="292.8" y="59.5" width="0.8" height="0.8"/><rect x="290.5" y="66.4" width="0.8" height="0.8"/><rect x="288.7" y="67.2" width="0.8" height="0.8"/><rect x="286.8" y="59.9" width="0.8" height="0.8"/><rect x="287.6" y="63.9" width="0.8" height="0.8"/><rect x="291.1" y="35.9" width="0.8" height="0.8"/><rect x="290.1" y="46.6" width="0.8" height="0.8"/><rect x="291.2" y="44.5" width="0.8" height="0.8"/><rect x="292.0" y="64.5" width="0.8" height="0.8"/><rect x="288.1" y="68.9" width="0.8" height="0.8"/><rect x="289.3" y="41.4" width="0.8" height="0.8"/><rect x="288.2" y="52.2" width="0.8" height="0.8"/><rect x="290.8" y="40.0" width="0.8" height="0.8"/><rect x="289.6" y="36.3" width="0.8" height="0.8"/><rect x="290.6" y="47.1" width="0.8" height="0.8"/><rect x="294.6" y="42.7" width="0.8" height="0.8"/><rect x="287.6" y="37.8" width="0.8" height="0.8"/><rect x="291.8" y="38.9" width="0.8" height="0.8"/><rect x="288.4" y="66.4" width="0.8" height="0.8"/><rect x="291.8" y="41.5" width="0.8" height="0.8"/><rect x="291.6" y="63.3" width="0.8" height="0.8"/><rect x="289.8" y="64.9" width="0.8" height="0.8"/><rect x="289.1" y="46.3" width="0.8" height="0.8"/><rect x="289.1" y="62.6" width="0.8" height="0.8"/><rect x="288.8" y="66.6" width="0.8" height="0.8"/><rect x="284.6" y="63.8" width="0.8" height="0.8"/><rect x="288.0" y="58.5" width="0.8" height="0.8"/><rect x="293.0" y="53.7" width="0.8" height="0.8"/><rect x="291.6" y="56.1" width="0.8" height="0.8"/><rect x="288.7" y="51.4" width="0.8" height="0.8"/><rect x="288.8" y="58.5" width="0.8" height="0.8"/><rect x="289.5" y="64.4" width="0.8" height="0.8"/><rect x="287.9" y="60.4" width="0.8" height="0.8"/><rect x="292.5" y="66.6" width="0.8" height="0.8"/><rect x="287.4" y="63.5" width="0.8" height="0.8"/><rect x="288.4" y="65.3" width="0.8" height="0.8"/><rect x="290.3" y="35.4" width="0.8" height="0.8"/><rect x="287.8" y="40.7" width="0.8" height="0.8"/><rect x="290.0" y="54.7" width="0.8" height="0.8"/><rect x="288.7" y="36.3" width="0.8" height="0.8"/><rect x="290.9" y="67.0" width="0.8" height="0.8"/><rect x="291.1" y="62.1" width="0.8" height="0.8"/><rect x="288.4" y="37.1" width="0.8" height="0.8"/><rect x="289.4" y="55.7" width="0.8" height="0.8"/><rect x="293.1" y="47.6" width="0.8" height="0.8"/><rect x="286.1" y="53.4" width="0.8" height="0.8"/><rect x="292.0" y="67.0" width="0.8" height="0.8"/><rect x="293.2" y="39.3" width="0.8" height="0.8"/><rect x="291.1" y="62.9" width="0.8" height="0.8"/><rect x="290.4" y="59.8" width="0.8" height="0.8"/><rect x="292.5" y="55.8" width="0.8" height="0.8"/><rect x="289.8" y="55.3" width="0.8" height="0.8"/><rect x="291.3" y="60.1" width="0.8" height="0.8"/><rect x="292.4" y="69.4" width="0.8" height="0.8"/><rect x="289.9" y="65.1" width="0.8" height="0.8"/><rect x="291.7" y="65.9" width="0.8" height="0.8"/><rect x="297.2" y="35.7" width="0.8" height="0.8"/><rect x="286.8" y="62.4" width="0.8" height="0.8"/><rect x="288.2" y="51.4" width="0.8" height="0.8"/><rect x="292.8" y="47.7" width="0.8" height="0.8"/><rect x="291.5" y="65.9" width="0.8" height="0.8"/><rect x="287.2" y="67.9" width="0.8" height="0.8"/><rect x="288.7" y="59.3" width="0.8" height="0.8"/><rect x="293.4" y="58.5" width="0.8" height="0.8"/><rect x="292.5" y="34.7" width="0.8" height="0.8"/><rect x="299.3" y="57.4" width="0.8" height="0.8"/><rect x="292.0" y="64.6" width="0.8" height="0.8"/><rect x="290.0" y="56.6" width="0.8" height="0.8"/><rect x="300.4" y="67.9" width="0.8" height="0.8"/><rect x="289.9" y="64.6" width="0.8" height="0.8"/><rect x="298.6" y="44.0" width="0.8" height="0.8"/><rect x="289.8" y="56.9" width="0.8" height="0.8"/><rect x="292.3" y="65.4" width="0.8" height="0.8"/><rect x="289.6" y="67.1" width="0.8" height="0.8"/><rect x="286.4" y="67.5" width="0.8" height="0.8"/><rect x="290.2" y="51.1" width="0.8" height="0.8"/><rect x="291.1" y="45.3" width="0.8" height="0.8"/><rect x="287.3" y="70.2" width="0.8" height="0.8"/><rect x="291.0" y="46.0" width="0.8" height="0.8"/><rect x="291.0" y="41.2" width="0.8" height="0.8"/><rect x="288.1" y="68.9" width="0.8" height="0.8"/><rect x="290.2" y="40.9" width="0.8" height="0.8"/><rect x="291.3" y="64.6" width="0.8" height="0.8"/><rect x="288.0" y="68.9" width="0.8" height="0.8"/><rect x="287.6" y="66.3" width="0.8" height="0.8"/><rect x="292.0" y="42.3" width="0.8" height="0.8"/><rect x="289.9" y="45.6" width="0.8" height="0.8"/><rect x="292.5" y="63.0" width="0.8" height="0.8"/><rect x="286.4" y="49.4" width="0.8" height="0.8"/><rect x="289.6" y="68.3" width="0.8" height="0.8"/><rect x="289.9" y="68.1" width="0.8" height="0.8"/><rect x="290.7" y="63.0" width="0.8" height="0.8"/><rect x="292.3" y="69.8" width="0.8" height="0.8"/><rect x="290.1" y="50.2" width="0.8" height="0.8"/><rect x="290.7" y="59.4" width="0.8" height="0.8"/><rect x="292.2" y="68.6" width="0.8" height="0.8"/><rect x="289.6" y="54.1" width="0.8" height="0.8"/><rect x="286.2" y="64.0" width="0.8" height="0.8"/><rect x="286.6" y="64.8" width="0.8" height="0.8"/><rect x="292.8" y="61.6" width="0.8" height="0.8"/><rect x="286.6" y="51.2" width="0.8" height="0.8"/><rect x="292.9" y="54.8" width="0.8" height="0.8"/><rect x="288.9" y="68.8" width="0.8" height="0.8"/><rect x="294.9" y="63.4" width="0.8" height="0.8"/><rect x="285.0" y="32.2" width="0.8" height="0.8"/><rect x="294.1" y="57.0" width="0.8" height="0.8"/><rect x="288.6" y="49.4" width="0.8" height="0.8"/><rect x="287.6" y="67.8" width="0.8" height="0.8"/><rect x="292.3" y="40.9" width="0.8" height="0.8"/><rect x="293.0" y="56.3" width="0.8" height="0.8"/><rect x="289.5" y="45.5" width="0.8" height="0.8"/><rect x="296.6" y="55.5" width="0.8" height="0.8"/><rect x="287.8" y="36.6" width="0.8" height="0.8"/><rect x="288.9" y="61.6" width="0.8" height="0.8"/><rect x="292.0" y="56.8" width="0.8" height="0.8"/><rect x="288.7" y="60.1" width="0.8" height="0.8"/><rect x="289.5" y="69.0" width="0.8" height="0.8"/><rect x="289.8" y="50.1" width="0.8" height="0.8"/><rect x="288.8" y="56.7" width="0.8" height="0.8"/><rect x="288.2" y="65.9" width="0.8" height="0.8"/><rect x="287.8" y="46.9" width="0.8" height="0.8"/><rect x="290.6" y="67.1" width="0.8" height="0.8"/><rect x="292.0" y="49.5" width="0.8" height="0.8"/><rect x="292.5" y="39.8" width="0.8" height="0.8"/><rect x="288.2" y="35.5" width="0.8" height="0.8"/><rect x="290.0" y="60.6" width="0.8" height="0.8"/><rect x="291.1" y="45.9" width="0.8" height="0.8"/><rect x="290.1" y="44.4" width="0.8" height="0.8"/><rect x="293.9" y="60.3" width="0.8" height="0.8"/><rect x="289.0" y="68.5" width="0.8" height="0.8"/><rect x="287.0" y="39.8" width="0.8" height="0.8"/><rect x="289.6" y="41.5" width="0.8" height="0.8"/><rect x="290.4" y="36.4" width="0.8" height="0.8"/><rect x="290.4" y="66.4" width="0.8" height="0.8"/><rect x="287.9" y="35.7" width="0.8" height="0.8"/><rect x="286.9" y="40.2" width="0.8" height="0.8"/><rect x="288.3" y="53.0" width="0.8" height="0.8"/><rect x="289.3" y="50.4" width="0.8" height="0.8"/><rect x="288.3" y="41.7" width="0.8" height="0.8"/><rect x="288.7" y="56.5" width="0.8" height="0.8"/><rect x="287.4" y="65.2" width="0.8" height="0.8"/><rect x="292.1" y="65.6" width="0.8" height="0.8"/><rect x="296.9" y="38.4" width="0.8" height="0.8"/><rect x="285.7" y="38.4" width="0.8" height="0.8"/><rect x="289.8" y="52.6" width="0.8" height="0.8"/><rect x="288.2" y="33.9" width="0.8" height="0.8"/><rect x="289.5" y="53.2" width="0.8" height="0.8"/><rect x="291.8" y="36.3" width="0.8" height="0.8"/><rect x="287.6" y="64.9" width="0.8" height="0.8"/><rect x="291.2" y="50.8" width="0.8" height="0.8"/><rect x="286.4" y="50.3" width="0.8" height="0.8"/><rect x="285.3" y="50.4" width="0.8" height="0.8"/><rect x="288.7" y="36.3" width="0.8" height="0.8"/><rect x="287.6" y="69.5" width="0.8" height="0.8"/><rect x="290.5" y="41.9" width="0.8" height="0.8"/><rect x="290.3" y="51.1" width="0.8" height="0.8"/><rect x="290.9" y="46.1" width="0.8" height="0.8"/><rect x="294.6" y="60.1" width="0.8" height="0.8"/><rect x="291.6" y="46.2" width="0.8" height="0.8"/><rect x="292.4" y="54.0" width="0.8" height="0.8"/><rect x="290.5" y="50.6" width="0.8" height="0.8"/><rect x="288.4" y="34.1" width="0.8" height="0.8"/><rect x="289.0" y="59.8" width="0.8" height="0.8"/><rect x="290.5" y="59.6" width="0.8" height="0.8"/><rect x="291.0" y="40.3" width="0.8" height="0.8"/><rect x="294.3" y="66.9" width="0.8" height="0.8"/><rect x="289.4" y="58.4" width="0.8" height="0.8"/><rect x="293.1" y="49.9" width="0.8" height="0.8"/><rect x="288.0" y="61.7" width="0.8" height="0.8"/><rect x="284.6" y="48.0" width="0.8" height="0.8"/><rect x="287.4" y="59.8" width="0.8" height="0.8"/><rect x="294.5" y="42.9" width="0.8" height="0.8"/><rect x="293.5" y="54.7" width="0.8" height="0.8"/><rect x="289.6" y="50.3" width="0.8" height="0.8"/><rect x="292.5" y="59.5" width="0.8" height="0.8"/><rect x="292.6" y="64.8" width="0.8" height="0.8"/><rect x="293.4" y="42.1" width="0.8" height="0.8"/><rect x="291.0" y="59.8" width="0.8" height="0.8"/><rect x="289.5" y="59.4" width="0.8" height="0.8"/><rect x="289.4" y="62.6" width="0.8" height="0.8"/><rect x="292.3" y="58.0" width="0.8" height="0.8"/><rect x="292.0" y="70.1" width="0.8" height="0.8"/><rect x="290.4" y="59.5" width="0.8" height="0.8"/><rect x="289.0" y="41.4" width="0.8" height="0.8"/><rect x="295.0" y="63.0" width="0.8" height="0.8"/><rect x="287.9" y="69.7" width="0.8" height="0.8"/><rect x="291.1" y="36.5" width="0.8" height="0.8"/><rect x="290.1" y="61.2" width="0.8" height="0.8"/><rect x="289.5" y="50.6" width="0.8" height="0.8"/><rect x="289.9" y="59.8" width="0.8" height="0.8"/><rect x="295.3" y="52.2" width="0.8" height="0.8"/><rect x="291.4" y="41.6" width="0.8" height="0.8"/><rect x="291.6" y="55.8" width="0.8" height="0.8"/><rect x="290.8" y="67.9" width="0.8" height="0.8"/><rect x="288.5" y="59.6" width="0.8" height="0.8"/><rect x="289.1" y="57.2" width="0.8" height="0.8"/><rect x="291.0" y="69.3" width="0.8" height="0.8"/><rect x="291.9" y="55.2" width="0.8" height="0.8"/><rect x="289.0" y="65.3" width="0.8" height="0.8"/><rect x="290.1" y="67.2" width="0.8" height="0.8"/><rect x="288.9" y="52.7" width="0.8" height="0.8"/><rect x="289.3" y="39.5" width="0.8" height="0.8"/><rect x="289.0" y="59.9" width="0.8" height="0.8"/><rect x="291.7" y="31.7" width="0.8" height="0.8"/><rect x="286.4" y="67.4" width="0.8" height="0.8"/><rect x="290.9" y="55.1" width="0.8" height="0.8"/><rect x="290.2" y="59.8" width="0.8" height="0.8"/><rect x="287.7" y="56.0" width="0.8" height="0.8"/><rect x="290.9" y="62.9" width="0.8" height="0.8"/><rect x="287.0" y="62.4" width="0.8" height="0.8"/><rect x="287.6" y="66.6" width="0.8" height="0.8"/><rect x="290.7" y="59.9" width="0.8" height="0.8"/><rect x="288.2" y="65.8" width="0.8" height="0.8"/><rect x="288.0" y="40.8" width="0.8" height="0.8"/><rect x="293.8" y="47.4" width="0.8" height="0.8"/><rect x="290.2" y="64.0" width="0.8" height="0.8"/><rect x="286.9" y="53.8" width="0.8" height="0.8"/><rect x="290.8" y="51.2" width="0.8" height="0.8"/><rect x="289.4" y="61.0" width="0.8" height="0.8"/><rect x="286.5" y="51.1" width="0.8" height="0.8"/><rect x="289.3" y="58.4" width="0.8" height="0.8"/><rect x="290.5" y="58.4" width="0.8" height="0.8"/><rect x="290.8" y="46.0" width="0.8" height="0.8"/><rect x="291.2" y="53.4" width="0.8" height="0.8"/><rect x="289.1" y="39.8" width="0.8" height="0.8"/><rect x="291.7" y="39.7" width="0.8" height="0.8"/><rect x="289.0" y="65.0" width="0.8" height="0.8"/><rect x="287.6" y="43.1" width="0.8" height="0.8"/><rect x="289.0" y="54.9" width="0.8" height="0.8"/><rect x="290.4" y="58.4" width="0.8" height="0.8"/><rect x="287.7" y="65.4" width="0.8" height="0.8"/><rect x="291.7" y="59.5" width="0.8" height="0.8"/><rect x="292.5" y="60.8" width="0.8" height="0.8"/><rect x="288.8" y="60.0" width="0.8" height="0.8"/><rect x="291.5" y="53.6" width="0.8" height="0.8"/><rect x="289.9" y="66.5" width="0.8" height="0.8"/><rect x="289.3" y="68.3" width="0.8" height="0.8"/><rect x="287.7" y="57.5" width="0.8" height="0.8"/><rect x="291.5" y="67.3" width="0.8" height="0.8"/><rect x="286.2" y="57.7" width="0.8" height="0.8"/><rect x="287.1" y="36.9" width="0.8" height="0.8"/></g>
<rect x="272.40" y="16.00" width="57.20" height="54.80" fill="none" stroke="#9a9a9a" stroke-width="0.9" />
<rect x="276.50" y="16.40" width="32.80" height="45.50" fill="none" stroke="#6a6a6a" stroke-width="0.9" />
<text x="279.90" y="22.60" font-size="4.6" text-anchor="start" font-weight="bold" font-style="normal" fill="#111" >34.3%</text>
<line x1="268.60" y1="20.20" x2="272.10" y2="22.70" stroke="#555" stroke-width="0.9" />
<line x1="268.60" y1="34.60" x2="272.10" y2="37.10" stroke="#555" stroke-width="0.9" />
<line x1="268.60" y1="48.30" x2="272.10" y2="50.80" stroke="#555" stroke-width="0.9" />
<line x1="268.60" y1="62.10" x2="272.10" y2="64.60" stroke="#555" stroke-width="0.9" />
<rect x="282.00" y="72.90" width="2.40" height="1.70" fill="#666" stroke="none" stroke-width="1" />
<rect x="293.20" y="72.90" width="2.40" height="1.70" fill="#666" stroke="none" stroke-width="1" />
<rect x="303.90" y="72.90" width="2.40" height="1.70" fill="#666" stroke="none" stroke-width="1" />
<rect x="315.10" y="72.90" width="2.40" height="1.70" fill="#666" stroke="none" stroke-width="1" />
<rect x="325.70" y="72.90" width="2.40" height="1.70" fill="#666" stroke="none" stroke-width="1" />
<rect x="323.90" y="75.60" width="6.00" height="1.20" fill="#aaa" stroke="none" stroke-width="1" />
<text x="370.20" y="12.60" font-size="7.0" text-anchor="middle" font-weight="normal" font-style="normal" fill="#222" stroke="#222" stroke-width="0.252" >D171N</text>
<g filter="url(#blur15)">
<rect x="355.20" y="33" width="8.4" height="31" fill="url(#colgrad)"/>
<rect x="355.60" y="61.2" width="9.2" height="9.4" rx="2.8" fill="#111"/>
</g>
<g fill="#000" fill-opacity="0.35"><rect x="360.9" y="54.3" width="0.8" height="0.8"/><rect x="360.8" y="64.7" width="0.8" height="0.8"/><rect x="357.7" y="40.5" width="0.8" height="0.8"/><rect x="362.8" y="67.4" width="0.8" height="0.8"/><rect x="360.7" y="36.9" width="0.8" height="0.8"/><rect x="357.8" y="36.5" width="0.8" height="0.8"/><rect x="359.5" y="50.0" width="0.8" height="0.8"/><rect x="361.6" y="60.7" width="0.8" height="0.8"/><rect x="362.0" y="69.1" width="0.8" height="0.8"/><rect x="360.4" y="66.6" width="0.8" height="0.8"/><rect x="361.6" y="65.1" width="0.8" height="0.8"/><rect x="358.0" y="46.6" width="0.8" height="0.8"/><rect x="357.9" y="53.2" width="0.8" height="0.8"/><rect x="361.3" y="57.5" width="0.8" height="0.8"/><rect x="357.1" y="55.6" width="0.8" height="0.8"/><rect x="361.6" y="67.7" width="0.8" height="0.8"/><rect x="363.5" y="39.2" width="0.8" height="0.8"/><rect x="366.6" y="63.3" width="0.8" height="0.8"/><rect x="359.0" y="65.1" width="0.8" height="0.8"/><rect x="357.1" y="50.1" width="0.8" height="0.8"/><rect x="358.8" y="55.2" width="0.8" height="0.8"/><rect x="364.0" y="68.0" width="0.8" height="0.8"/><rect x="362.1" y="60.4" width="0.8" height="0.8"/><rect x="357.8" y="52.1" width="0.8" height="0.8"/><rect x="358.9" y="61.3" width="0.8" height="0.8"/><rect x="363.0" y="60.9" width="0.8" height="0.8"/><rect x="358.4" y="64.8" width="0.8" height="0.8"/><rect x="359.1" y="49.7" width="0.8" height="0.8"/><rect x="362.9" y="63.4" width="0.8" height="0.8"/><rect x="359.5" y="65.8" width="0.8" height="0.8"/><rect x="359.8" y="38.2" width="0.8" height="0.8"/><rect x="358.5" y="62.0" width="0.8" height="0.8"/><rect x="359.6" y="67.8" width="0.8" height="0.8"/><rect x="357.7" y="69.6" width="0.8" height="0.8"/><rect x="358.8" y="60.0" width="0.8" height="0.8"/><rect x="359.0" y="66.3" width="0.8" height="0.8"/><rect x="359.6" y="57.9" width="0.8" height="0.8"/><rect x="362.2" y="37.4" width="0.8" height="0.8"/><rect x="356.7" y="38.3" width="0.8" height="0.8"/><rect x="358.6" y="55.5" width="0.8" height="0.8"/><rect x="356.6" y="35.0" width="0.8" height="0.8"/><rect x="359.0" y="41.9" width="0.8" height="0.8"/><rect x="358.9" y="65.9" width="0.8" height="0.8"/><rect x="359.7" y="37.1" width="0.8" height="0.8"/><rect x="359.4" y="53.2" width="0.8" height="0.8"/><rect x="360.4" y="30.9" width="0.8" height="0.8"/><rect x="359.2" y="67.1" width="0.8" height="0.8"/><rect x="358.2" y="56.2" width="0.8" height="0.8"/><rect x="357.6" y="68.7" width="0.8" height="0.8"/><rect x="357.7" y="41.7" width="0.8" height="0.8"/><rect x="359.3" y="57.7" width="0.8" height="0.8"/><rect x="359.4" y="62.4" width="0.8" height="0.8"/><rect x="362.6" y="53.4" width="0.8" height="0.8"/><rect x="362.2" y="46.1" width="0.8" height="0.8"/><rect x="360.8" y="43.5" width="0.8" height="0.8"/><rect x="359.2" y="69.1" width="0.8" height="0.8"/><rect x="357.8" y="67.7" width="0.8" height="0.8"/><rect x="361.0" y="48.1" width="0.8" height="0.8"/><rect x="361.3" y="64.7" width="0.8" height="0.8"/><rect x="358.8" y="59.8" width="0.8" height="0.8"/><rect x="361.6" y="68.8" width="0.8" height="0.8"/><rect x="361.6" y="56.2" width="0.8" height="0.8"/><rect x="359.4" y="53.2" width="0.8" height="0.8"/><rect x="357.8" y="62.8" width="0.8" height="0.8"/><rect x="359.7" y="61.7" width="0.8" height="0.8"/><rect x="358.2" y="56.1" width="0.8" height="0.8"/><rect x="362.5" y="43.9" width="0.8" height="0.8"/><rect x="359.7" y="49.1" width="0.8" height="0.8"/><rect x="358.0" y="54.7" width="0.8" height="0.8"/><rect x="358.7" y="68.4" width="0.8" height="0.8"/><rect x="358.6" y="40.0" width="0.8" height="0.8"/><rect x="360.1" y="65.8" width="0.8" height="0.8"/><rect x="360.9" y="68.4" width="0.8" height="0.8"/><rect x="357.9" y="48.8" width="0.8" height="0.8"/><rect x="361.2" y="65.9" width="0.8" height="0.8"/><rect x="360.9" y="50.4" width="0.8" height="0.8"/><rect x="360.7" y="53.9" width="0.8" height="0.8"/><rect x="361.2" y="69.5" width="0.8" height="0.8"/><rect x="358.1" y="47.6" width="0.8" height="0.8"/><rect x="366.6" y="32.8" width="0.8" height="0.8"/><rect x="360.6" y="56.9" width="0.8" height="0.8"/><rect x="360.8" y="68.2" width="0.8" height="0.8"/><rect x="359.8" y="59.7" width="0.8" height="0.8"/><rect x="361.2" y="57.6" width="0.8" height="0.8"/><rect x="361.9" y="60.7" width="0.8" height="0.8"/><rect x="360.6" y="59.3" width="0.8" height="0.8"/><rect x="355.0" y="65.5" width="0.8" height="0.8"/><rect x="360.6" y="55.4" width="0.8" height="0.8"/><rect x="358.3" y="44.9" width="0.8" height="0.8"/><rect x="361.2" y="61.9" width="0.8" height="0.8"/><rect x="358.3" y="49.2" width="0.8" height="0.8"/><rect x="359.1" y="37.6" width="0.8" height="0.8"/><rect x="360.0" y="47.7" width="0.8" height="0.8"/><rect x="359.0" y="60.0" width="0.8" height="0.8"/><rect x="359.9" y="65.6" width="0.8" height="0.8"/><rect x="357.3" y="49.0" width="0.8" height="0.8"/><rect x="358.0" y="54.5" width="0.8" height="0.8"/><rect x="359.3" y="44.6" width="0.8" height="0.8"/><rect x="358.2" y="37.4" width="0.8" height="0.8"/><rect x="359.0" y="38.3" width="0.8" height="0.8"/><rect x="362.5" y="66.8" width="0.8" height="0.8"/><rect x="359.7" y="34.4" width="0.8" height="0.8"/><rect x="359.8" y="65.6" width="0.8" height="0.8"/><rect x="360.4" y="67.2" width="0.8" height="0.8"/><rect x="358.3" y="36.9" width="0.8" height="0.8"/><rect x="360.1" y="44.3" width="0.8" height="0.8"/><rect x="362.3" y="61.9" width="0.8" height="0.8"/><rect x="360.3" y="69.4" width="0.8" height="0.8"/><rect x="359.2" y="55.6" width="0.8" height="0.8"/><rect x="357.4" y="39.6" width="0.8" height="0.8"/><rect x="362.2" y="65.1" width="0.8" height="0.8"/><rect x="359.1" y="32.5" width="0.8" height="0.8"/><rect x="355.8" y="38.1" width="0.8" height="0.8"/><rect x="359.6" y="58.0" width="0.8" height="0.8"/><rect x="359.5" y="43.8" width="0.8" height="0.8"/><rect x="357.6" y="61.4" width="0.8" height="0.8"/><rect x="361.5" y="41.2" width="0.8" height="0.8"/><rect x="359.4" y="54.9" width="0.8" height="0.8"/><rect x="355.4" y="59.7" width="0.8" height="0.8"/><rect x="357.7" y="48.1" width="0.8" height="0.8"/><rect x="363.7" y="44.8" width="0.8" height="0.8"/><rect x="363.2" y="40.5" width="0.8" height="0.8"/><rect x="368.3" y="42.2" width="0.8" height="0.8"/><rect x="361.0" y="65.9" width="0.8" height="0.8"/><rect x="360.3" y="45.9" width="0.8" height="0.8"/><rect x="363.3" y="59.8" width="0.8" height="0.8"/><rect x="360.8" y="63.1" width="0.8" height="0.8"/><rect x="358.1" y="66.5" width="0.8" height="0.8"/><rect x="359.7" y="35.4" width="0.8" height="0.8"/><rect x="360.1" y="51.0" width="0.8" height="0.8"/><rect x="358.4" y="67.3" width="0.8" height="0.8"/><rect x="361.3" y="52.3" width="0.8" height="0.8"/><rect x="358.1" y="68.8" width="0.8" height="0.8"/><rect x="360.5" y="69.7" width="0.8" height="0.8"/><rect x="363.9" y="60.0" width="0.8" height="0.8"/><rect x="360.1" y="61.9" width="0.8" height="0.8"/><rect x="357.3" y="66.5" width="0.8" height="0.8"/><rect x="359.2" y="45.5" width="0.8" height="0.8"/><rect x="357.1" y="45.0" width="0.8" height="0.8"/><rect x="365.8" y="46.4" width="0.8" height="0.8"/><rect x="357.3" y="54.3" width="0.8" height="0.8"/><rect x="359.1" y="55.8" width="0.8" height="0.8"/><rect x="366.5" y="62.3" width="0.8" height="0.8"/><rect x="356.7" y="47.2" width="0.8" height="0.8"/><rect x="361.0" y="70.0" width="0.8" height="0.8"/><rect x="361.8" y="39.6" width="0.8" height="0.8"/><rect x="360.3" y="45.9" width="0.8" height="0.8"/><rect x="361.0" y="30.0" width="0.8" height="0.8"/><rect x="360.8" y="47.4" width="0.8" height="0.8"/><rect x="362.4" y="60.5" width="0.8" height="0.8"/><rect x="362.1" y="43.7" width="0.8" height="0.8"/><rect x="360.8" y="45.1" width="0.8" height="0.8"/><rect x="361.8" y="57.6" width="0.8" height="0.8"/><rect x="360.1" y="49.4" width="0.8" height="0.8"/><rect x="357.3" y="58.0" width="0.8" height="0.8"/><rect x="362.4" y="65.3" width="0.8" height="0.8"/><rect x="356.0" y="57.5" width="0.8" height="0.8"/><rect x="361.0" y="64.2" width="0.8" height="0.8"/><rect x="361.3" y="37.7" width="0.8" height="0.8"/><rect x="356.5" y="69.7" width="0.8" height="0.8"/><rect x="360.2" y="57.9" width="0.8" height="0.8"/><rect x="357.1" y="70.0" width="0.8" height="0.8"/><rect x="358.6" y="54.0" width="0.8" height="0.8"/><rect x="360.6" y="49.6" width="0.8" height="0.8"/><rect x="357.4" y="44.0" width="0.8" height="0.8"/><rect x="361.7" y="50.5" width="0.8" height="0.8"/><rect x="361.2" y="55.0" width="0.8" height="0.8"/><rect x="359.5" y="62.0" width="0.8" height="0.8"/><rect x="362.1" y="55.9" width="0.8" height="0.8"/><rect x="364.3" y="63.5" width="0.8" height="0.8"/><rect x="356.2" y="62.8" width="0.8" height="0.8"/><rect x="361.0" y="55.6" width="0.8" height="0.8"/><rect x="360.0" y="44.3" width="0.8" height="0.8"/><rect x="361.3" y="40.9" width="0.8" height="0.8"/><rect x="360.9" y="38.6" width="0.8" height="0.8"/><rect x="364.1" y="54.1" width="0.8" height="0.8"/><rect x="357.9" y="66.7" width="0.8" height="0.8"/><rect x="357.5" y="52.5" width="0.8" height="0.8"/><rect x="357.5" y="64.4" width="0.8" height="0.8"/><rect x="358.2" y="39.5" width="0.8" height="0.8"/><rect x="363.9" y="48.0" width="0.8" height="0.8"/><rect x="355.9" y="45.8" width="0.8" height="0.8"/><rect x="359.0" y="45.8" width="0.8" height="0.8"/><rect x="359.8" y="58.6" width="0.8" height="0.8"/><rect x="363.7" y="68.7" width="0.8" height="0.8"/><rect x="363.2" y="68.7" width="0.8" height="0.8"/><rect x="362.1" y="45.2" width="0.8" height="0.8"/><rect x="362.1" y="53.8" width="0.8" height="0.8"/><rect x="362.9" y="39.4" width="0.8" height="0.8"/><rect x="358.3" y="69.1" width="0.8" height="0.8"/><rect x="361.7" y="66.5" width="0.8" height="0.8"/><rect x="358.8" y="40.6" width="0.8" height="0.8"/><rect x="357.4" y="61.4" width="0.8" height="0.8"/><rect x="361.7" y="38.6" width="0.8" height="0.8"/><rect x="359.6" y="50.3" width="0.8" height="0.8"/><rect x="357.3" y="48.8" width="0.8" height="0.8"/><rect x="359.8" y="37.2" width="0.8" height="0.8"/><rect x="361.0" y="50.4" width="0.8" height="0.8"/><rect x="357.9" y="56.6" width="0.8" height="0.8"/><rect x="358.6" y="43.2" width="0.8" height="0.8"/><rect x="355.1" y="53.2" width="0.8" height="0.8"/><rect x="365.4" y="56.2" width="0.8" height="0.8"/><rect x="360.7" y="67.2" width="0.8" height="0.8"/><rect x="358.8" y="60.2" width="0.8" height="0.8"/><rect x="358.3" y="50.4" width="0.8" height="0.8"/><rect x="356.9" y="58.7" width="0.8" height="0.8"/><rect x="360.2" y="38.5" width="0.8" height="0.8"/><rect x="363.3" y="69.0" width="0.8" height="0.8"/><rect x="357.5" y="40.6" width="0.8" height="0.8"/><rect x="364.5" y="58.1" width="0.8" height="0.8"/><rect x="363.3" y="67.9" width="0.8" height="0.8"/><rect x="360.8" y="64.9" width="0.8" height="0.8"/><rect x="358.0" y="65.6" width="0.8" height="0.8"/><rect x="361.8" y="57.6" width="0.8" height="0.8"/><rect x="365.5" y="70.2" width="0.8" height="0.8"/><rect x="362.2" y="60.6" width="0.8" height="0.8"/><rect x="362.2" y="65.6" width="0.8" height="0.8"/><rect x="359.2" y="42.8" width="0.8" height="0.8"/><rect x="361.3" y="67.2" width="0.8" height="0.8"/><rect x="359.0" y="44.3" width="0.8" height="0.8"/><rect x="359.1" y="51.5" width="0.8" height="0.8"/><rect x="359.0" y="38.7" width="0.8" height="0.8"/><rect x="358.1" y="67.8" width="0.8" height="0.8"/><rect x="364.0" y="64.7" width="0.8" height="0.8"/><rect x="360.3" y="66.3" width="0.8" height="0.8"/><rect x="361.1" y="36.7" width="0.8" height="0.8"/><rect x="361.0" y="52.7" width="0.8" height="0.8"/><rect x="359.7" y="65.1" width="0.8" height="0.8"/><rect x="359.2" y="49.7" width="0.8" height="0.8"/><rect x="355.8" y="65.3" width="0.8" height="0.8"/><rect x="358.9" y="50.7" width="0.8" height="0.8"/><rect x="359.0" y="65.6" width="0.8" height="0.8"/><rect x="358.3" y="46.9" width="0.8" height="0.8"/><rect x="361.5" y="49.9" width="0.8" height="0.8"/><rect x="363.9" y="69.3" width="0.8" height="0.8"/><rect x="356.8" y="66.7" width="0.8" height="0.8"/><rect x="358.4" y="66.9" width="0.8" height="0.8"/><rect x="357.6" y="58.7" width="0.8" height="0.8"/><rect x="359.7" y="58.3" width="0.8" height="0.8"/><rect x="354.5" y="30.6" width="0.8" height="0.8"/><rect x="361.8" y="50.0" width="0.8" height="0.8"/><rect x="356.8" y="57.4" width="0.8" height="0.8"/><rect x="360.2" y="62.3" width="0.8" height="0.8"/><rect x="357.8" y="38.7" width="0.8" height="0.8"/><rect x="358.3" y="65.8" width="0.8" height="0.8"/><rect x="360.0" y="59.7" width="0.8" height="0.8"/><rect x="354.2" y="62.6" width="0.8" height="0.8"/><rect x="357.1" y="64.1" width="0.8" height="0.8"/><rect x="357.5" y="53.6" width="0.8" height="0.8"/><rect x="370.2" y="46.9" width="0.8" height="0.8"/><rect x="359.7" y="60.9" width="0.8" height="0.8"/><rect x="362.5" y="59.4" width="0.8" height="0.8"/><rect x="360.9" y="67.0" width="0.8" height="0.8"/><rect x="357.2" y="42.6" width="0.8" height="0.8"/><rect x="361.9" y="38.2" width="0.8" height="0.8"/><rect x="356.7" y="40.4" width="0.8" height="0.8"/><rect x="358.6" y="56.5" width="0.8" height="0.8"/><rect x="363.6" y="44.8" width="0.8" height="0.8"/><rect x="366.8" y="67.1" width="0.8" height="0.8"/><rect x="361.1" y="46.8" width="0.8" height="0.8"/><rect x="360.9" y="37.9" width="0.8" height="0.8"/><rect x="361.7" y="36.6" width="0.8" height="0.8"/><rect x="363.9" y="65.8" width="0.8" height="0.8"/><rect x="360.1" y="58.1" width="0.8" height="0.8"/><rect x="359.6" y="39.3" width="0.8" height="0.8"/><rect x="358.9" y="41.4" width="0.8" height="0.8"/><rect x="357.5" y="38.8" width="0.8" height="0.8"/><rect x="361.8" y="41.4" width="0.8" height="0.8"/><rect x="356.4" y="41.0" width="0.8" height="0.8"/><rect x="359.4" y="66.6" width="0.8" height="0.8"/><rect x="360.8" y="64.3" width="0.8" height="0.8"/><rect x="357.7" y="58.6" width="0.8" height="0.8"/><rect x="360.9" y="55.4" width="0.8" height="0.8"/><rect x="359.3" y="70.3" width="0.8" height="0.8"/><rect x="357.6" y="58.7" width="0.8" height="0.8"/><rect x="362.8" y="59.5" width="0.8" height="0.8"/><rect x="361.1" y="57.9" width="0.8" height="0.8"/><rect x="356.2" y="46.2" width="0.8" height="0.8"/><rect x="356.8" y="33.6" width="0.8" height="0.8"/><rect x="359.5" y="67.3" width="0.8" height="0.8"/><rect x="358.4" y="63.1" width="0.8" height="0.8"/><rect x="363.5" y="41.5" width="0.8" height="0.8"/><rect x="362.0" y="62.1" width="0.8" height="0.8"/><rect x="358.2" y="56.3" width="0.8" height="0.8"/><rect x="357.7" y="60.3" width="0.8" height="0.8"/><rect x="359.2" y="44.8" width="0.8" height="0.8"/><rect x="358.2" y="49.7" width="0.8" height="0.8"/><rect x="361.3" y="54.1" width="0.8" height="0.8"/><rect x="368.1" y="58.0" width="0.8" height="0.8"/><rect x="360.7" y="52.5" width="0.8" height="0.8"/><rect x="355.4" y="44.3" width="0.8" height="0.8"/><rect x="358.3" y="63.9" width="0.8" height="0.8"/><rect x="358.2" y="63.5" width="0.8" height="0.8"/><rect x="361.4" y="56.9" width="0.8" height="0.8"/><rect x="357.8" y="54.7" width="0.8" height="0.8"/><rect x="359.0" y="43.9" width="0.8" height="0.8"/><rect x="362.7" y="45.2" width="0.8" height="0.8"/><rect x="360.5" y="41.2" width="0.8" height="0.8"/><rect x="357.7" y="61.7" width="0.8" height="0.8"/><rect x="359.3" y="66.5" width="0.8" height="0.8"/><rect x="358.2" y="61.1" width="0.8" height="0.8"/><rect x="365.2" y="69.4" width="0.8" height="0.8"/><rect x="358.7" y="68.9" width="0.8" height="0.8"/><rect x="359.6" y="69.0" width="0.8" height="0.8"/><rect x="360.9" y="58.4" width="0.8" height="0.8"/><rect x="355.6" y="56.1" width="0.8" height="0.8"/><rect x="360.5" y="57.0" width="0.8" height="0.8"/><rect x="362.0" y="48.5" width="0.8" height="0.8"/><rect x="356.6" y="55.8" width="0.8" height="0.8"/><rect x="358.2" y="47.1" width="0.8" height="0.8"/><rect x="363.9" y="68.0" width="0.8" height="0.8"/><rect x="357.2" y="37.0" width="0.8" height="0.8"/><rect x="361.6" y="62.8" width="0.8" height="0.8"/><rect x="358.4" y="53.6" width="0.8" height="0.8"/><rect x="358.5" y="48.1" width="0.8" height="0.8"/><rect x="358.9" y="40.8" width="0.8" height="0.8"/><rect x="362.2" y="53.9" width="0.8" height="0.8"/><rect x="361.5" y="59.8" width="0.8" height="0.8"/><rect x="357.7" y="46.4" width="0.8" height="0.8"/><rect x="358.8" y="60.2" width="0.8" height="0.8"/><rect x="364.0" y="57.4" width="0.8" height="0.8"/><rect x="357.4" y="57.7" width="0.8" height="0.8"/><rect x="363.5" y="36.2" width="0.8" height="0.8"/><rect x="355.9" y="41.2" width="0.8" height="0.8"/><rect x="361.9" y="60.5" width="0.8" height="0.8"/><rect x="357.6" y="35.4" width="0.8" height="0.8"/><rect x="356.3" y="44.3" width="0.8" height="0.8"/><rect x="358.6" y="63.0" width="0.8" height="0.8"/><rect x="357.3" y="58.5" width="0.8" height="0.8"/><rect x="360.2" y="36.2" width="0.8" height="0.8"/><rect x="357.7" y="61.6" width="0.8" height="0.8"/><rect x="358.0" y="65.7" width="0.8" height="0.8"/><rect x="358.6" y="60.1" width="0.8" height="0.8"/><rect x="360.2" y="61.8" width="0.8" height="0.8"/><rect x="358.8" y="65.1" width="0.8" height="0.8"/><rect x="358.1" y="49.4" width="0.8" height="0.8"/><rect x="364.0" y="68.9" width="0.8" height="0.8"/><rect x="356.5" y="61.8" width="0.8" height="0.8"/><rect x="359.0" y="54.5" width="0.8" height="0.8"/><rect x="360.4" y="47.6" width="0.8" height="0.8"/><rect x="360.7" y="60.3" width="0.8" height="0.8"/><rect x="354.8" y="34.9" width="0.8" height="0.8"/><rect x="366.0" y="65.3" width="0.8" height="0.8"/><rect x="359.5" y="45.3" width="0.8" height="0.8"/><rect x="357.4" y="58.2" width="0.8" height="0.8"/><rect x="360.9" y="66.3" width="0.8" height="0.8"/><rect x="357.1" y="58.5" width="0.8" height="0.8"/><rect x="358.2" y="48.5" width="0.8" height="0.8"/><rect x="354.5" y="38.2" width="0.8" height="0.8"/><rect x="357.9" y="61.3" width="0.8" height="0.8"/><rect x="362.4" y="59.6" width="0.8" height="0.8"/><rect x="359.2" y="60.4" width="0.8" height="0.8"/><rect x="361.0" y="61.5" width="0.8" height="0.8"/><rect x="358.6" y="60.7" width="0.8" height="0.8"/><rect x="360.3" y="63.9" width="0.8" height="0.8"/><rect x="367.2" y="49.5" width="0.8" height="0.8"/><rect x="358.6" y="35.3" width="0.8" height="0.8"/><rect x="357.2" y="65.5" width="0.8" height="0.8"/><rect x="359.8" y="67.1" width="0.8" height="0.8"/><rect x="359.8" y="70.2" width="0.8" height="0.8"/><rect x="355.0" y="42.6" width="0.8" height="0.8"/><rect x="366.2" y="35.5" width="0.8" height="0.8"/><rect x="360.5" y="69.7" width="0.8" height="0.8"/><rect x="363.0" y="42.4" width="0.8" height="0.8"/><rect x="363.2" y="50.6" width="0.8" height="0.8"/><rect x="358.3" y="69.6" width="0.8" height="0.8"/><rect x="356.9" y="38.4" width="0.8" height="0.8"/><rect x="360.1" y="68.6" width="0.8" height="0.8"/><rect x="358.5" y="65.6" width="0.8" height="0.8"/><rect x="359.1" y="63.5" width="0.8" height="0.8"/><rect x="360.1" y="44.4" width="0.8" height="0.8"/><rect x="359.7" y="60.4" width="0.8" height="0.8"/><rect x="359.8" y="44.7" width="0.8" height="0.8"/><rect x="362.1" y="53.2" width="0.8" height="0.8"/><rect x="362.6" y="61.5" width="0.8" height="0.8"/><rect x="366.8" y="63.3" width="0.8" height="0.8"/><rect x="365.8" y="56.0" width="0.8" height="0.8"/><rect x="360.2" y="35.9" width="0.8" height="0.8"/><rect x="360.0" y="57.8" width="0.8" height="0.8"/><rect x="362.9" y="68.1" width="0.8" height="0.8"/><rect x="362.2" y="37.8" width="0.8" height="0.8"/><rect x="361.2" y="66.7" width="0.8" height="0.8"/><rect x="360.3" y="59.1" width="0.8" height="0.8"/><rect x="360.3" y="65.3" width="0.8" height="0.8"/><rect x="362.0" y="39.9" width="0.8" height="0.8"/><rect x="368.7" y="52.8" width="0.8" height="0.8"/><rect x="362.0" y="50.6" width="0.8" height="0.8"/><rect x="356.6" y="60.0" width="0.8" height="0.8"/><rect x="357.9" y="66.0" width="0.8" height="0.8"/><rect x="362.5" y="61.9" width="0.8" height="0.8"/><rect x="363.4" y="35.0" width="0.8" height="0.8"/><rect x="357.5" y="58.1" width="0.8" height="0.8"/><rect x="362.6" y="52.4" width="0.8" height="0.8"/><rect x="362.0" y="41.1" width="0.8" height="0.8"/><rect x="364.6" y="42.4" width="0.8" height="0.8"/><rect x="360.5" y="57.6" width="0.8" height="0.8"/><rect x="356.1" y="62.4" width="0.8" height="0.8"/><rect x="359.8" y="47.0" width="0.8" height="0.8"/><rect x="359.1" y="46.4" width="0.8" height="0.8"/><rect x="356.0" y="43.5" width="0.8" height="0.8"/><rect x="357.5" y="60.9" width="0.8" height="0.8"/><rect x="356.0" y="40.2" width="0.8" height="0.8"/><rect x="363.5" y="44.8" width="0.8" height="0.8"/><rect x="361.0" y="56.6" width="0.8" height="0.8"/><rect x="364.0" y="56.8" width="0.8" height="0.8"/><rect x="355.8" y="57.0" width="0.8" height="0.8"/><rect x="362.3" y="67.2" width="0.8" height="0.8"/><rect x="369.1" y="43.5" width="0.8" height="0.8"/><rect x="360.0" y="39.9" width="0.8" height="0.8"/><rect x="362.2" y="57.2" width="0.8" height="0.8"/><rect x="357.8" y="37.1" width="0.8" height="0.8"/><rect x="356.4" y="65.9" width="0.8" height="0.8"/><rect x="361.2" y="37.6" width="0.8" height="0.8"/><rect x="360.2" y="58.3" width="0.8" height="0.8"/><rect x="359.7" y="57.2" width="0.8" height="0.8"/><rect x="360.6" y="52.7" width="0.8" height="0.8"/><rect x="358.3" y="41.8" width="0.8" height="0.8"/><rect x="359.8" y="67.2" width="0.8" height="0.8"/><rect x="359.8" y="37.0" width="0.8" height="0.8"/><rect x="357.1" y="47.4" width="0.8" height="0.8"/><rect x="359.2" y="61.5" width="0.8" height="0.8"/><rect x="358.9" y="67.6" width="0.8" height="0.8"/><rect x="353.5" y="66.9" width="0.8" height="0.8"/><rect x="358.9" y="60.8" width="0.8" height="0.8"/><rect x="359.0" y="68.9" width="0.8" height="0.8"/><rect x="356.5" y="61.3" width="0.8" height="0.8"/><rect x="358.3" y="31.3" width="0.8" height="0.8"/><rect x="367.4" y="39.3" width="0.8" height="0.8"/><rect x="363.6" y="41.4" width="0.8" height="0.8"/><rect x="356.4" y="68.5" width="0.8" height="0.8"/><rect x="364.6" y="64.9" width="0.8" height="0.8"/><rect x="357.3" y="59.4" width="0.8" height="0.8"/><rect x="363.1" y="45.7" width="0.8" height="0.8"/><rect x="358.2" y="60.9" width="0.8" height="0.8"/><rect x="360.6" y="65.6" width="0.8" height="0.8"/><rect x="358.2" y="35.7" width="0.8" height="0.8"/><rect x="361.7" y="56.7" width="0.8" height="0.8"/><rect x="362.0" y="66.6" width="0.8" height="0.8"/><rect x="362.8" y="54.4" width="0.8" height="0.8"/><rect x="358.1" y="67.1" width="0.8" height="0.8"/><rect x="361.2" y="44.9" width="0.8" height="0.8"/><rect x="360.7" y="64.2" width="0.8" height="0.8"/><rect x="355.9" y="69.1" width="0.8" height="0.8"/><rect x="360.3" y="62.9" width="0.8" height="0.8"/><rect x="360.7" y="68.6" width="0.8" height="0.8"/><rect x="361.6" y="66.9" width="0.8" height="0.8"/><rect x="362.4" y="68.7" width="0.8" height="0.8"/><rect x="360.1" y="36.8" width="0.8" height="0.8"/><rect x="359.5" y="66.5" width="0.8" height="0.8"/><rect x="357.4" y="69.5" width="0.8" height="0.8"/><rect x="368.4" y="51.5" width="0.8" height="0.8"/><rect x="363.5" y="68.9" width="0.8" height="0.8"/><rect x="364.0" y="68.2" width="0.8" height="0.8"/><rect x="363.3" y="48.9" width="0.8" height="0.8"/><rect x="361.3" y="56.4" width="0.8" height="0.8"/><rect x="358.6" y="64.7" width="0.8" height="0.8"/><rect x="362.5" y="66.3" width="0.8" height="0.8"/><rect x="363.3" y="66.8" width="0.8" height="0.8"/><rect x="361.5" y="43.9" width="0.8" height="0.8"/><rect x="359.6" y="49.1" width="0.8" height="0.8"/><rect x="361.5" y="38.3" width="0.8" height="0.8"/><rect x="360.5" y="37.6" width="0.8" height="0.8"/><rect x="360.3" y="69.8" width="0.8" height="0.8"/><rect x="364.0" y="31.5" width="0.8" height="0.8"/><rect x="360.1" y="60.5" width="0.8" height="0.8"/><rect x="362.3" y="35.9" width="0.8" height="0.8"/><rect x="361.9" y="68.3" width="0.8" height="0.8"/><rect x="359.0" y="51.8" width="0.8" height="0.8"/><rect x="360.6" y="55.5" width="0.8" height="0.8"/><rect x="360.6" y="65.2" width="0.8" height="0.8"/><rect x="359.5" y="69.4" width="0.8" height="0.8"/><rect x="359.8" y="52.8" width="0.8" height="0.8"/><rect x="362.8" y="65.6" width="0.8" height="0.8"/><rect x="363.4" y="30.0" width="0.8" height="0.8"/><rect x="359.3" y="50.3" width="0.8" height="0.8"/><rect x="360.3" y="60.8" width="0.8" height="0.8"/><rect x="363.0" y="51.4" width="0.8" height="0.8"/><rect x="360.2" y="39.6" width="0.8" height="0.8"/><rect x="360.4" y="64.3" width="0.8" height="0.8"/><rect x="358.3" y="37.8" width="0.8" height="0.8"/><rect x="356.0" y="41.0" width="0.8" height="0.8"/><rect x="360.9" y="67.5" width="0.8" height="0.8"/><rect x="360.2" y="68.6" width="0.8" height="0.8"/><rect x="359.6" y="36.9" width="0.8" height="0.8"/><rect x="358.0" y="40.7" width="0.8" height="0.8"/><rect x="356.8" y="60.4" width="0.8" height="0.8"/><rect x="362.2" y="43.8" width="0.8" height="0.8"/><rect x="361.3" y="58.8" width="0.8" height="0.8"/><rect x="358.1" y="64.6" width="0.8" height="0.8"/><rect x="361.1" y="61.0" width="0.8" height="0.8"/><rect x="356.7" y="45.9" width="0.8" height="0.8"/><rect x="359.1" y="45.3" width="0.8" height="0.8"/><rect x="358.7" y="61.1" width="0.8" height="0.8"/><rect x="362.4" y="61.4" width="0.8" height="0.8"/><rect x="366.7" y="39.5" width="0.8" height="0.8"/><rect x="357.6" y="44.0" width="0.8" height="0.8"/><rect x="360.1" y="68.2" width="0.8" height="0.8"/><rect x="360.4" y="53.8" width="0.8" height="0.8"/><rect x="361.6" y="37.6" width="0.8" height="0.8"/><rect x="357.6" y="54.0" width="0.8" height="0.8"/><rect x="359.4" y="66.7" width="0.8" height="0.8"/><rect x="360.4" y="37.1" width="0.8" height="0.8"/><rect x="360.8" y="45.8" width="0.8" height="0.8"/><rect x="360.6" y="42.8" width="0.8" height="0.8"/><rect x="359.3" y="49.9" width="0.8" height="0.8"/><rect x="365.2" y="38.1" width="0.8" height="0.8"/><rect x="357.5" y="62.8" width="0.8" height="0.8"/><rect x="358.7" y="61.8" width="0.8" height="0.8"/><rect x="359.4" y="62.1" width="0.8" height="0.8"/><rect x="360.9" y="35.9" width="0.8" height="0.8"/><rect x="362.1" y="69.8" width="0.8" height="0.8"/><rect x="358.3" y="69.1" width="0.8" height="0.8"/><rect x="357.5" y="57.9" width="0.8" height="0.8"/><rect x="361.0" y="67.3" width="0.8" height="0.8"/><rect x="357.2" y="64.0" width="0.8" height="0.8"/><rect x="360.2" y="53.8" width="0.8" height="0.8"/><rect x="361.0" y="51.4" width="0.8" height="0.8"/><rect x="361.9" y="69.6" width="0.8" height="0.8"/><rect x="359.1" y="41.2" width="0.8" height="0.8"/><rect x="361.5" y="59.6" width="0.8" height="0.8"/><rect x="360.5" y="56.3" width="0.8" height="0.8"/><rect x="358.2" y="63.9" width="0.8" height="0.8"/><rect x="360.9" y="69.6" width="0.8" height="0.8"/><rect x="358.6" y="65.3" width="0.8" height="0.8"/><rect x="357.3" y="44.8" width="0.8" height="0.8"/><rect x="359.5" y="64.9" width="0.8" height="0.8"/><rect x="357.5" y="46.5" width="0.8" height="0.8"/><rect x="362.7" y="57.2" width="0.8" height="0.8"/><rect x="361.0" y="59.8" width="0.8" height="0.8"/><rect x="367.8" y="59.4" width="0.8" height="0.8"/><rect x="362.7" y="42.9" width="0.8" height="0.8"/><rect x="357.8" y="61.0" width="0.8" height="0.8"/><rect x="359.1" y="65.2" width="0.8" height="0.8"/><rect x="361.7" y="66.0" width="0.8" height="0.8"/><rect x="359.7" y="51.3" width="0.8" height="0.8"/><rect x="357.4" y="51.4" width="0.8" height="0.8"/><rect x="360.0" y="54.4" width="0.8" height="0.8"/><rect x="359.4" y="59.7" width="0.8" height="0.8"/><rect x="356.4" y="43.0" width="0.8" height="0.8"/><rect x="355.3" y="38.0" width="0.8" height="0.8"/><rect x="361.1" y="47.7" width="0.8" height="0.8"/><rect x="364.6" y="38.8" width="0.8" height="0.8"/><rect x="356.5" y="67.3" width="0.8" height="0.8"/><rect x="362.3" y="43.4" width="0.8" height="0.8"/><rect x="361.0" y="61.3" width="0.8" height="0.8"/><rect x="364.6" y="61.5" width="0.8" height="0.8"/><rect x="360.4" y="67.3" width="0.8" height="0.8"/><rect x="360.4" y="62.1" width="0.8" height="0.8"/><rect x="358.9" y="68.5" width="0.8" height="0.8"/><rect x="362.3" y="55.9" width="0.8" height="0.8"/><rect x="363.7" y="34.8" width="0.8" height="0.8"/><rect x="359.2" y="36.2" width="0.8" height="0.8"/><rect x="361.9" y="56.3" width="0.8" height="0.8"/><rect x="358.7" y="58.5" width="0.8" height="0.8"/><rect x="360.9" y="66.3" width="0.8" height="0.8"/><rect x="358.6" y="58.1" width="0.8" height="0.8"/><rect x="360.5" y="40.0" width="0.8" height="0.8"/><rect x="360.9" y="56.8" width="0.8" height="0.8"/><rect x="355.9" y="68.8" width="0.8" height="0.8"/><rect x="361.4" y="61.3" width="0.8" height="0.8"/><rect x="359.3" y="39.3" width="0.8" height="0.8"/><rect x="361.0" y="63.6" width="0.8" height="0.8"/><rect x="358.2" y="55.8" width="0.8" height="0.8"/><rect x="360.4" y="38.6" width="0.8" height="0.8"/><rect x="356.8" y="41.7" width="0.8" height="0.8"/><rect x="363.6" y="64.5" width="0.8" height="0.8"/><rect x="361.1" y="63.3" width="0.8" height="0.8"/><rect x="356.2" y="45.0" width="0.8" height="0.8"/><rect x="362.9" y="64.5" width="0.8" height="0.8"/><rect x="361.1" y="44.2" width="0.8" height="0.8"/><rect x="366.0" y="35.7" width="0.8" height="0.8"/><rect x="356.0" y="60.5" width="0.8" height="0.8"/><rect x="359.1" y="39.2" width="0.8" height="0.8"/><rect x="357.7" y="42.6" width="0.8" height="0.8"/><rect x="360.3" y="54.8" width="0.8" height="0.8"/><rect x="361.5" y="67.9" width="0.8" height="0.8"/><rect x="360.3" y="65.0" width="0.8" height="0.8"/><rect x="363.4" y="68.2" width="0.8" height="0.8"/><rect x="357.4" y="67.2" width="0.8" height="0.8"/><rect x="361.0" y="46.9" width="0.8" height="0.8"/><rect x="354.5" y="60.1" width="0.8" height="0.8"/><rect x="360.2" y="38.9" width="0.8" height="0.8"/><rect x="359.0" y="39.7" width="0.8" height="0.8"/><rect x="359.1" y="38.8" width="0.8" height="0.8"/><rect x="358.3" y="56.3" width="0.8" height="0.8"/><rect x="358.8" y="67.1" width="0.8" height="0.8"/><rect x="359.1" y="52.7" width="0.8" height="0.8"/><rect x="357.3" y="62.2" width="0.8" height="0.8"/><rect x="358.9" y="55.2" width="0.8" height="0.8"/><rect x="362.5" y="60.6" width="0.8" height="0.8"/><rect x="355.4" y="53.7" width="0.8" height="0.8"/><rect x="354.4" y="65.9" width="0.8" height="0.8"/><rect x="361.0" y="57.8" width="0.8" height="0.8"/><rect x="358.8" y="64.2" width="0.8" height="0.8"/><rect x="357.1" y="42.8" width="0.8" height="0.8"/><rect x="363.2" y="43.8" width="0.8" height="0.8"/><rect x="359.5" y="38.5" width="0.8" height="0.8"/><rect x="354.7" y="66.5" width="0.8" height="0.8"/><rect x="365.9" y="68.2" width="0.8" height="0.8"/><rect x="358.8" y="58.6" width="0.8" height="0.8"/><rect x="356.9" y="48.0" width="0.8" height="0.8"/><rect x="360.9" y="50.2" width="0.8" height="0.8"/><rect x="360.0" y="64.6" width="0.8" height="0.8"/><rect x="361.9" y="57.8" width="0.8" height="0.8"/><rect x="362.7" y="62.5" width="0.8" height="0.8"/><rect x="356.7" y="63.3" width="0.8" height="0.8"/><rect x="357.8" y="44.4" width="0.8" height="0.8"/><rect x="359.2" y="67.9" width="0.8" height="0.8"/><rect x="362.2" y="65.7" width="0.8" height="0.8"/><rect x="363.7" y="68.4" width="0.8" height="0.8"/><rect x="360.7" y="47.8" width="0.8" height="0.8"/><rect x="358.8" y="40.0" width="0.8" height="0.8"/><rect x="363.3" y="67.9" width="0.8" height="0.8"/><rect x="361.1" y="56.6" width="0.8" height="0.8"/><rect x="361.2" y="67.3" width="0.8" height="0.8"/><rect x="361.0" y="58.0" width="0.8" height="0.8"/><rect x="362.4" y="49.9" width="0.8" height="0.8"/><rect x="359.6" y="54.3" width="0.8" height="0.8"/><rect x="360.1" y="67.1" width="0.8" height="0.8"/><rect x="360.0" y="35.4" width="0.8" height="0.8"/><rect x="360.4" y="54.7" width="0.8" height="0.8"/><rect x="357.6" y="68.7" width="0.8" height="0.8"/><rect x="357.4" y="68.9" width="0.8" height="0.8"/><rect x="356.9" y="48.1" width="0.8" height="0.8"/><rect x="358.5" y="55.0" width="0.8" height="0.8"/><rect x="358.5" y="37.3" width="0.8" height="0.8"/><rect x="364.5" y="62.4" width="0.8" height="0.8"/><rect x="358.6" y="36.1" width="0.8" height="0.8"/><rect x="358.4" y="60.7" width="0.8" height="0.8"/><rect x="362.2" y="43.3" width="0.8" height="0.8"/><rect x="359.0" y="49.8" width="0.8" height="0.8"/><rect x="362.5" y="51.4" width="0.8" height="0.8"/><rect x="358.2" y="54.5" width="0.8" height="0.8"/><rect x="361.1" y="56.6" width="0.8" height="0.8"/><rect x="360.8" y="37.2" width="0.8" height="0.8"/><rect x="359.0" y="41.9" width="0.8" height="0.8"/><rect x="362.9" y="66.9" width="0.8" height="0.8"/><rect x="360.0" y="59.8" width="0.8" height="0.8"/><rect x="360.0" y="43.5" width="0.8" height="0.8"/><rect x="354.3" y="52.6" width="0.8" height="0.8"/><rect x="368.6" y="47.8" width="0.8" height="0.8"/><rect x="362.7" y="66.5" width="0.8" height="0.8"/><rect x="355.6" y="61.9" width="0.8" height="0.8"/><rect x="357.1" y="36.1" width="0.8" height="0.8"/><rect x="359.8" y="60.8" width="0.8" height="0.8"/><rect x="360.4" y="46.8" width="0.8" height="0.8"/><rect x="361.3" y="47.8" width="0.8" height="0.8"/><rect x="359.4" y="36.6" width="0.8" height="0.8"/><rect x="361.3" y="37.4" width="0.8" height="0.8"/><rect x="358.4" y="64.3" width="0.8" height="0.8"/><rect x="363.0" y="63.0" width="0.8" height="0.8"/><rect x="359.1" y="62.7" width="0.8" height="0.8"/><rect x="360.6" y="53.4" width="0.8" height="0.8"/><rect x="357.7" y="55.8" width="0.8" height="0.8"/><rect x="359.5" y="53.0" width="0.8" height="0.8"/><rect x="360.9" y="68.7" width="0.8" height="0.8"/><rect x="362.8" y="42.3" width="0.8" height="0.8"/><rect x="362.8" y="53.5" width="0.8" height="0.8"/><rect x="356.6" y="52.9" width="0.8" height="0.8"/><rect x="369.6" y="55.2" width="0.8" height="0.8"/><rect x="358.2" y="54.2" width="0.8" height="0.8"/><rect x="363.5" y="43.5" width="0.8" height="0.8"/><rect x="354.2" y="55.9" width="0.8" height="0.8"/><rect x="357.9" y="60.3" width="0.8" height="0.8"/><rect x="357.7" y="39.7" width="0.8" height="0.8"/><rect x="361.6" y="59.8" width="0.8" height="0.8"/><rect x="357.3" y="54.0" width="0.8" height="0.8"/><rect x="360.1" y="42.4" width="0.8" height="0.8"/><rect x="359.6" y="67.8" width="0.8" height="0.8"/><rect x="356.6" y="40.5" width="0.8" height="0.8"/><rect x="360.5" y="47.6" width="0.8" height="0.8"/><rect x="360.7" y="57.9" width="0.8" height="0.8"/><rect x="358.1" y="41.1" width="0.8" height="0.8"/><rect x="357.1" y="49.6" width="0.8" height="0.8"/><rect x="356.4" y="37.7" width="0.8" height="0.8"/><rect x="362.1" y="60.3" width="0.8" height="0.8"/><rect x="358.3" y="62.6" width="0.8" height="0.8"/><rect x="359.2" y="59.4" width="0.8" height="0.8"/><rect x="358.0" y="66.8" width="0.8" height="0.8"/><rect x="358.9" y="62.1" width="0.8" height="0.8"/><rect x="355.7" y="64.0" width="0.8" height="0.8"/><rect x="359.9" y="42.8" width="0.8" height="0.8"/><rect x="364.4" y="69.5" width="0.8" height="0.8"/><rect x="363.1" y="67.7" width="0.8" height="0.8"/><rect x="361.5" y="60.5" width="0.8" height="0.8"/><rect x="358.5" y="58.1" width="0.8" height="0.8"/><rect x="360.6" y="55.1" width="0.8" height="0.8"/><rect x="362.6" y="51.9" width="0.8" height="0.8"/></g>
<rect x="342.00" y="16.00" width="57.20" height="54.80" fill="none" stroke="#9a9a9a" stroke-width="0.9" />
<rect x="346.10" y="16.40" width="32.80" height="45.50" fill="none" stroke="#6a6a6a" stroke-width="0.9" />
<text x="349.50" y="22.60" font-size="4.6" text-anchor="start" font-weight="bold" font-style="normal" fill="#111" >42.8%</text>
<line x1="338.20" y1="20.20" x2="341.70" y2="22.70" stroke="#555" stroke-width="0.9" />
<line x1="338.20" y1="34.60" x2="341.70" y2="37.10" stroke="#555" stroke-width="0.9" />
<line x1="338.20" y1="48.30" x2="341.70" y2="50.80" stroke="#555" stroke-width="0.9" />
<line x1="338.20" y1="62.10" x2="341.70" y2="64.60" stroke="#555" stroke-width="0.9" />
<rect x="351.60" y="72.90" width="2.40" height="1.70" fill="#666" stroke="none" stroke-width="1" />
<rect x="362.80" y="72.90" width="2.40" height="1.70" fill="#666" stroke="none" stroke-width="1" />
<rect x="373.50" y="72.90" width="2.40" height="1.70" fill="#666" stroke="none" stroke-width="1" />
<rect x="384.70" y="72.90" width="2.40" height="1.70" fill="#666" stroke="none" stroke-width="1" />
<rect x="395.30" y="72.90" width="2.40" height="1.70" fill="#666" stroke="none" stroke-width="1" />
<rect x="393.50" y="75.60" width="6.00" height="1.20" fill="#aaa" stroke="none" stroke-width="1" />
<text x="438.50" y="9.60" font-size="11" text-anchor="start" font-weight="bold" font-style="normal" fill="#000" >C</text>
<text x="459.60" y="15.00" font-size="6.6" text-anchor="start" font-weight="normal" font-style="normal" fill="#222" stroke="#222" stroke-width="0.238" >pMXs.</text>
<text x="469.90" y="23.00" font-size="7.0" text-anchor="middle" font-weight="normal" font-style="normal" fill="#222" stroke="#222" stroke-width="0.252" >IG</text>
<text x="482.40" y="18.80" font-size="7.0" text-anchor="start" font-weight="normal" font-style="normal" fill="#222" stroke="#222" stroke-width="0.252" >D171N</text>
<text x="448.80" y="28.10" font-size="8.0" text-anchor="end" font-weight="normal" font-style="normal" fill="#222" stroke="#222" stroke-width="0.288" >66</text>
<line x1="451.00" y1="25.60" x2="455.60" y2="25.60" stroke="#111" stroke-width="1.2" />
<text x="448.80" y="43.40" font-size="8.0" text-anchor="end" font-weight="normal" font-style="normal" fill="#222" stroke="#222" stroke-width="0.288" >45</text>
<line x1="451.00" y1="37.30" x2="455.60" y2="37.30" stroke="#111" stroke-width="1.2" />
<text x="448.80" y="63.00" font-size="8.0" text-anchor="end" font-weight="normal" font-style="normal" fill="#222" stroke="#222" stroke-width="0.288" >30</text>
<line x1="451.00" y1="57.80" x2="455.60" y2="57.80" stroke="#111" stroke-width="1.2" />
<rect x="456.00" y="23.20" width="47.80" height="46.40" fill="url(#blotbg)" stroke="none" stroke-width="1" />
<rect x="481.20" y="23.20" width="4.40" height="46.40" fill="#ffffff" stroke="none" stroke-width="1" opacity="0.35"/>
<rect x="456.30" y="28.20" width="25.10" height="3.20" fill="url(#bandg)" stroke="none" stroke-width="1" opacity="0.08"/>
<rect x="485.60" y="28.20" width="18.00" height="3.20" fill="url(#bandg)" stroke="none" stroke-width="1" opacity="0.06"/>
<rect x="456.30" y="32.00" width="25.10" height="2.60" fill="url(#bandg)" stroke="none" stroke-width="1" opacity="0.09"/>
<rect x="456.30" y="35.60" width="25.10" height="3.20" fill="url(#bandg)" stroke="none" stroke-width="1" opacity="0.07"/>
<rect x="485.60" y="35.60" width="18.00" height="3.20" fill="url(#bandg)" stroke="none" stroke-width="1" opacity="0.05"/>
<rect x="485.60" y="41.60" width="18.00" height="2.40" fill="url(#bandg)" stroke="none" stroke-width="1" opacity="0.14"/>
<rect x="456.30" y="44.00" width="25.10" height="2.40" fill="url(#bandg)" stroke="none" stroke-width="1" opacity="0.06"/>
<rect x="485.60" y="44.00" width="18.00" height="2.40" fill="url(#bandg)" stroke="none" stroke-width="1" opacity="0.05"/>
<rect x="456.30" y="47.60" width="25.10" height="4.00" fill="url(#bandg)" stroke="none" stroke-width="1" opacity="0.4"/>
<rect x="485.60" y="47.60" width="18.00" height="4.00" fill="url(#bandg)" stroke="none" stroke-width="1" opacity="0.35"/>
<rect x="481.20" y="47.80" width="4.60" height="3.60" fill="url(#bandg)" stroke="none" stroke-width="1" opacity="0.20"/>
<rect x="456.30" y="52.40" width="25.10" height="4.40" fill="url(#bandg)" stroke="none" stroke-width="1" opacity="0.95"/>
<rect x="485.60" y="52.40" width="18.00" height="4.40" fill="url(#bandg)" stroke="none" stroke-width="1" opacity="0.88"/>
<rect x="481.20" y="52.62" width="4.60" height="3.96" fill="url(#bandg)" stroke="none" stroke-width="1" opacity="0.71"/>
<rect x="456.30" y="56.00" width="25.10" height="3.60" fill="url(#bandg)" stroke="none" stroke-width="1" opacity="0.55"/>
<rect x="485.60" y="56.00" width="18.00" height="3.60" fill="url(#bandg)" stroke="none" stroke-width="1" opacity="0.5"/>
<rect x="481.20" y="56.18" width="4.60" height="3.24" fill="url(#bandg)" stroke="none" stroke-width="1" opacity="0.33"/>
<rect x="456.30" y="58.70" width="25.10" height="5.00" fill="url(#bandg)" stroke="none" stroke-width="1" opacity="1.0"/>
<rect x="485.60" y="58.70" width="18.00" height="5.00" fill="url(#bandg)" stroke="none" stroke-width="1" opacity="0.98"/>
<rect x="481.20" y="58.95" width="4.60" height="4.50" fill="url(#bandg)" stroke="none" stroke-width="1" opacity="0.85"/>
<rect x="456.30" y="65.40" width="25.10" height="2.80" fill="url(#bandg)" stroke="none" stroke-width="1" opacity="0.22"/>
<rect x="485.60" y="65.40" width="18.00" height="2.80" fill="url(#bandg)" stroke="none" stroke-width="1" opacity="0.18"/>
<rect x="481.20" y="65.54" width="4.60" height="2.52" fill="url(#bandg)" stroke="none" stroke-width="1" opacity="0.09"/>
<rect x="485.90" y="30.60" width="16.70" height="6.00" fill="url(#bandg)" stroke="none" stroke-width="1" rx="2.5"/>
<rect x="486.30" y="31.40" width="15.90" height="4.40" fill="#050505" stroke="none" stroke-width="1" rx="2"/>
<line x1="509.00" y1="33.80" x2="520.00" y2="33.80" stroke="#000" stroke-width="1.5" />
<polygon points="505.6,33.8 513,30.6 513,37" fill="#000"/>
<text x="-0.60" y="104.50" font-size="11" text-anchor="start" font-weight="bold" font-style="normal" fill="#000" >D</text>
<text x="99.00" y="101.80" font-size="8.3" text-anchor="middle" font-weight="bold" font-style="normal" fill="#000" >Patient #1</text>
<rect x="56.20" y="105.25" width="9.60" height="46.85" fill="url(#dots)" stroke="#444" stroke-width="0.85" />
<line x1="55.80" y1="105.45" x2="66.20" y2="105.45" stroke="#333" stroke-width="1.0" />
<rect x="56.60" y="124.25" width="8.80" height="27.85" fill="#7c7c7c" stroke="none" stroke-width="1" />
<line x1="56.20" y1="124.25" x2="65.80" y2="124.25" stroke="#555" stroke-width="0.6" />
<rect x="71.20" y="133.10" width="9.60" height="19.00" fill="url(#dots)" stroke="#444" stroke-width="0.85" />
<line x1="70.80" y1="133.30" x2="81.20" y2="133.30" stroke="#333" stroke-width="1.0" />
<rect x="115.70" y="116.25" width="9.60" height="35.85" fill="url(#dots)" stroke="#444" stroke-width="0.85" />
<line x1="115.30" y1="116.45" x2="125.70" y2="116.45" stroke="#333" stroke-width="1.0" />
<rect x="116.10" y="147.75" width="8.80" height="4.35" fill="#7c7c7c" stroke="none" stroke-width="1" />
<line x1="115.70" y1="147.75" x2="125.30" y2="147.75" stroke="#555" stroke-width="0.6" />
<rect x="130.70" y="126.25" width="9.60" height="25.85" fill="url(#dots)" stroke="#444" stroke-width="0.85" />
<line x1="130.30" y1="126.45" x2="140.70" y2="126.45" stroke="#333" stroke-width="1.0" />
<rect x="145.70" y="144.40" width="9.60" height="7.70" fill="url(#dots)" stroke="#444" stroke-width="0.85" />
<line x1="145.30" y1="144.60" x2="155.70" y2="144.60" stroke="#333" stroke-width="1.0" />
<rect x="38.50" y="103.50" width="120.00" height="48.60" fill="none" stroke="#666" stroke-width="1.0" />
<line x1="99.20" y1="103.50" x2="99.20" y2="152.10" stroke="#5a5a5a" stroke-width="1.0" />
<text x="33.90" y="153.70" font-size="5.6" text-anchor="end" font-weight="normal" font-style="normal" fill="#555" stroke="#555" stroke-width="0.202" >0</text>
<text x="163.10" y="153.70" font-size="5.6" text-anchor="start" font-weight="normal" font-style="normal" fill="#555" stroke="#555" stroke-width="0.202" >0</text>
<text x="33.90" y="137.50" font-size="5.6" text-anchor="end" font-weight="normal" font-style="normal" fill="#555" stroke="#555" stroke-width="0.202" >50</text>
<text x="163.10" y="137.50" font-size="5.6" text-anchor="start" font-weight="normal" font-style="normal" fill="#555" stroke="#555" stroke-width="0.202" >400</text>
<line x1="38.50" y1="135.90" x2="40.00" y2="135.90" stroke="#777" stroke-width="0.7" />
<line x1="157.00" y1="135.90" x2="158.50" y2="135.90" stroke="#777" stroke-width="0.7" />
<text x="33.90" y="121.30" font-size="5.6" text-anchor="end" font-weight="normal" font-style="normal" fill="#555" stroke="#555" stroke-width="0.202" >100</text>
<text x="163.10" y="121.30" font-size="5.6" text-anchor="start" font-weight="normal" font-style="normal" fill="#555" stroke="#555" stroke-width="0.202" >800</text>
<line x1="38.50" y1="119.70" x2="40.00" y2="119.70" stroke="#777" stroke-width="0.7" />
<line x1="157.00" y1="119.70" x2="158.50" y2="119.70" stroke="#777" stroke-width="0.7" />
<text x="33.90" y="105.10" font-size="5.6" text-anchor="end" font-weight="normal" font-style="normal" fill="#555" stroke="#555" stroke-width="0.202" >150</text>
<text x="163.10" y="105.10" font-size="5.6" text-anchor="start" font-weight="normal" font-style="normal" fill="#555" stroke="#555" stroke-width="0.202" >1200</text>
<polyline points="46.00,151.90 61.00,149.60 76.00,130.00 91.00,151.90" fill="none" stroke="#000" stroke-width="1.1"/>
<circle cx="46.00" cy="151.90" r="2.7" fill="#000"/>
<circle cx="61.00" cy="149.60" r="2.7" fill="#000"/>
<circle cx="76.00" cy="130.00" r="2.7" fill="#000"/>
<circle cx="91.00" cy="151.90" r="2.7" fill="#000"/>
<polyline points="105.50,151.90 120.50,151.00 135.50,128.75 150.50,105.25" fill="none" stroke="#000" stroke-width="1.1"/>
<circle cx="105.50" cy="151.90" r="2.7" fill="#000"/>
<circle cx="120.50" cy="151.00" r="2.7" fill="#000"/>
<circle cx="135.50" cy="128.75" r="2.7" fill="#000"/>
<circle cx="150.50" cy="105.25" r="2.7" fill="#000"/>
<text x="99.00" y="165.80" font-size="8.3" text-anchor="middle" font-weight="bold" font-style="normal" fill="#000" >Patient #2</text>
<rect x="56.20" y="189.40" width="9.60" height="26.70" fill="url(#dots)" stroke="#444" stroke-width="0.85" />
<line x1="55.80" y1="189.60" x2="66.20" y2="189.60" stroke="#333" stroke-width="1.0" />
<rect x="56.60" y="199.75" width="8.80" height="16.35" fill="#7c7c7c" stroke="none" stroke-width="1" />
<line x1="56.20" y1="199.75" x2="65.80" y2="199.75" stroke="#555" stroke-width="0.6" />
<rect x="71.20" y="213.50" width="9.60" height="2.60" fill="url(#dots)" stroke="#444" stroke-width="0.85" />
<rect x="115.70" y="178.75" width="9.60" height="37.35" fill="url(#dots)" stroke="#444" stroke-width="0.85" />
<line x1="115.30" y1="178.95" x2="125.70" y2="178.95" stroke="#333" stroke-width="1.0" />
<rect x="116.10" y="209.40" width="8.80" height="6.70" fill="#7c7c7c" stroke="none" stroke-width="1" />
<line x1="115.70" y1="209.40" x2="125.30" y2="209.40" stroke="#555" stroke-width="0.6" />
<rect x="130.70" y="205.00" width="9.60" height="11.10" fill="url(#dots)" stroke="#444" stroke-width="0.85" />
<line x1="130.30" y1="205.20" x2="140.70" y2="205.20" stroke="#333" stroke-width="1.0" />
<rect x="38.50" y="167.50" width="120.00" height="48.60" fill="none" stroke="#666" stroke-width="1.0" />
<line x1="99.20" y1="167.50" x2="99.20" y2="216.10" stroke="#5a5a5a" stroke-width="1.0" />
<text x="33.90" y="217.70" font-size="5.6" text-anchor="end" font-weight="normal" font-style="normal" fill="#555" stroke="#555" stroke-width="0.202" >0</text>
<text x="163.10" y="217.70" font-size="5.6" text-anchor="start" font-weight="normal" font-style="normal" fill="#555" stroke="#555" stroke-width="0.202" >0</text>
<text x="33.90" y="201.50" font-size="5.6" text-anchor="end" font-weight="normal" font-style="normal" fill="#555" stroke="#555" stroke-width="0.202" >200</text>
<text x="163.10" y="201.50" font-size="5.6" text-anchor="start" font-weight="normal" font-style="normal" fill="#555" stroke="#555" stroke-width="0.202" >150</text>
<line x1="38.50" y1="199.90" x2="40.00" y2="199.90" stroke="#777" stroke-width="0.7" />
<line x1="157.00" y1="199.90" x2="158.50" y2="199.90" stroke="#777" stroke-width="0.7" />
<text x="33.90" y="185.30" font-size="5.6" text-anchor="end" font-weight="normal" font-style="normal" fill="#555" stroke="#555" stroke-width="0.202" >400</text>
<text x="163.10" y="185.30" font-size="5.6" text-anchor="start" font-weight="normal" font-style="normal" fill="#555" stroke="#555" stroke-width="0.202" >300</text>
<line x1="38.50" y1="183.70" x2="40.00" y2="183.70" stroke="#777" stroke-width="0.7" />
<line x1="157.00" y1="183.70" x2="158.50" y2="183.70" stroke="#777" stroke-width="0.7" />
<text x="33.90" y="169.10" font-size="5.6" text-anchor="end" font-weight="normal" font-style="normal" fill="#555" stroke="#555" stroke-width="0.202" >600</text>
<text x="163.10" y="169.10" font-size="5.6" text-anchor="start" font-weight="normal" font-style="normal" fill="#555" stroke="#555" stroke-width="0.202" >450</text>
<polyline points="46.00,216.30 61.00,214.40 76.00,211.50" fill="none" stroke="#000" stroke-width="1.1"/>
<circle cx="46.00" cy="216.30" r="2.7" fill="#000"/>
<circle cx="61.00" cy="214.40" r="2.7" fill="#000"/>
<circle cx="76.00" cy="211.50" r="2.7" fill="#000"/>
<polyline points="105.50,216.30 120.50,214.00 135.50,179.40" fill="none" stroke="#000" stroke-width="1.1"/>
<circle cx="105.50" cy="216.30" r="2.7" fill="#000"/>
<circle cx="120.50" cy="214.00" r="2.7" fill="#000"/>
<circle cx="135.50" cy="179.40" r="2.7" fill="#000"/>
<text x="99.00" y="229.80" font-size="8.3" text-anchor="middle" font-weight="bold" font-style="normal" fill="#000" >Patient #3</text>
<rect x="56.20" y="234.60" width="9.60" height="45.50" fill="url(#dots)" stroke="#444" stroke-width="0.85" />
<line x1="55.80" y1="234.80" x2="66.20" y2="234.80" stroke="#333" stroke-width="1.0" />
<rect x="56.60" y="270.25" width="8.80" height="9.85" fill="#7c7c7c" stroke="none" stroke-width="1" />
<line x1="56.20" y1="270.25" x2="65.80" y2="270.25" stroke="#555" stroke-width="0.6" />
<rect x="71.20" y="277.50" width="9.60" height="2.60" fill="url(#dots)" stroke="#444" stroke-width="0.85" />
<rect x="115.70" y="232.10" width="9.60" height="48.00" fill="url(#dots)" stroke="#444" stroke-width="0.85" />
<line x1="115.30" y1="232.30" x2="125.70" y2="232.30" stroke="#333" stroke-width="1.0" />
<rect x="116.10" y="260.25" width="8.80" height="19.85" fill="#7c7c7c" stroke="none" stroke-width="1" />
<line x1="115.70" y1="260.25" x2="125.30" y2="260.25" stroke="#555" stroke-width="0.6" />
<rect x="130.70" y="274.00" width="9.60" height="6.10" fill="url(#dots)" stroke="#444" stroke-width="0.85" />
<line x1="130.30" y1="274.20" x2="140.70" y2="274.20" stroke="#333" stroke-width="1.0" />
<rect x="38.50" y="231.50" width="120.00" height="48.60" fill="none" stroke="#666" stroke-width="1.0" />
<line x1="99.20" y1="231.50" x2="99.20" y2="280.10" stroke="#5a5a5a" stroke-width="1.0" />
<text x="33.90" y="281.70" font-size="5.6" text-anchor="end" font-weight="normal" font-style="normal" fill="#555" stroke="#555" stroke-width="0.202" >0</text>
<text x="163.10" y="281.70" font-size="5.6" text-anchor="start" font-weight="normal" font-style="normal" fill="#555" stroke="#555" stroke-width="0.202" >0</text>
<text x="33.90" y="265.50" font-size="5.6" text-anchor="end" font-weight="normal" font-style="normal" fill="#555" stroke="#555" stroke-width="0.202" >60</text>
<text x="163.10" y="265.50" font-size="5.6" text-anchor="start" font-weight="normal" font-style="normal" fill="#555" stroke="#555" stroke-width="0.202" >150</text>
<line x1="38.50" y1="263.90" x2="40.00" y2="263.90" stroke="#777" stroke-width="0.7" />
<line x1="157.00" y1="263.90" x2="158.50" y2="263.90" stroke="#777" stroke-width="0.7" />
<text x="33.90" y="249.30" font-size="5.6" text-anchor="end" font-weight="normal" font-style="normal" fill="#555" stroke="#555" stroke-width="0.202" >120</text>
<text x="163.10" y="249.30" font-size="5.6" text-anchor="start" font-weight="normal" font-style="normal" fill="#555" stroke="#555" stroke-width="0.202" >300</text>
<line x1="38.50" y1="247.70" x2="40.00" y2="247.70" stroke="#777" stroke-width="0.7" />
<line x1="157.00" y1="247.70" x2="158.50" y2="247.70" stroke="#777" stroke-width="0.7" />
<text x="33.90" y="233.10" font-size="5.6" text-anchor="end" font-weight="normal" font-style="normal" fill="#555" stroke="#555" stroke-width="0.202" >180</text>
<text x="163.10" y="233.10" font-size="5.6" text-anchor="start" font-weight="normal" font-style="normal" fill="#555" stroke="#555" stroke-width="0.202" >450</text>
<polyline points="46.00,280.20 61.00,278.75 76.00,272.50" fill="none" stroke="#000" stroke-width="1.1"/>
<circle cx="46.00" cy="280.20" r="2.7" fill="#000"/>
<circle cx="61.00" cy="278.75" r="2.7" fill="#000"/>
<circle cx="76.00" cy="272.50" r="2.7" fill="#000"/>
<polyline points="105.50,280.00 120.50,275.00 135.50,245.50" fill="none" stroke="#000" stroke-width="1.1"/>
<circle cx="105.50" cy="280.00" r="2.7" fill="#000"/>
<circle cx="120.50" cy="275.00" r="2.7" fill="#000"/>
<circle cx="135.50" cy="245.50" r="2.7" fill="#000"/>
<text x="99.00" y="293.80" font-size="8.3" text-anchor="middle" font-weight="bold" font-style="normal" fill="#000" >Patient #4</text>
<rect x="56.20" y="296.50" width="9.60" height="47.60" fill="url(#dots)" stroke="#444" stroke-width="0.85" />
<line x1="55.80" y1="296.70" x2="66.20" y2="296.70" stroke="#333" stroke-width="1.0" />
<rect x="56.60" y="311.25" width="8.80" height="32.85" fill="#7c7c7c" stroke="none" stroke-width="1" />
<line x1="56.20" y1="311.25" x2="65.80" y2="311.25" stroke="#555" stroke-width="0.6" />
<rect x="115.70" y="307.50" width="9.60" height="36.60" fill="url(#dots)" stroke="#444" stroke-width="0.85" />
<line x1="115.30" y1="307.70" x2="125.70" y2="307.70" stroke="#333" stroke-width="1.0" />
<rect x="116.10" y="335.60" width="8.80" height="8.50" fill="#7c7c7c" stroke="none" stroke-width="1" />
<line x1="115.70" y1="335.60" x2="125.30" y2="335.60" stroke="#555" stroke-width="0.6" />
<rect x="130.70" y="341.90" width="9.60" height="2.20" fill="url(#dots)" stroke="#444" stroke-width="0.85" />
<rect x="38.50" y="295.50" width="120.00" height="48.60" fill="none" stroke="#666" stroke-width="1.0" />
<line x1="99.20" y1="295.50" x2="99.20" y2="344.10" stroke="#5a5a5a" stroke-width="1.0" />
<text x="33.90" y="345.70" font-size="5.6" text-anchor="end" font-weight="normal" font-style="normal" fill="#555" stroke="#555" stroke-width="0.202" >0</text>
<text x="163.10" y="345.70" font-size="5.6" text-anchor="start" font-weight="normal" font-style="normal" fill="#555" stroke="#555" stroke-width="0.202" >0</text>
<text x="33.90" y="329.50" font-size="5.6" text-anchor="end" font-weight="normal" font-style="normal" fill="#555" stroke="#555" stroke-width="0.202" >100</text>
<text x="163.10" y="329.50" font-size="5.6" text-anchor="start" font-weight="normal" font-style="normal" fill="#555" stroke="#555" stroke-width="0.202" >50</text>
<line x1="38.50" y1="327.90" x2="40.00" y2="327.90" stroke="#777" stroke-width="0.7" />
<line x1="157.00" y1="327.90" x2="158.50" y2="327.90" stroke="#777" stroke-width="0.7" />
<text x="33.90" y="313.30" font-size="5.6" text-anchor="end" font-weight="normal" font-style="normal" fill="#555" stroke="#555" stroke-width="0.202" >200</text>
<text x="163.10" y="313.30" font-size="5.6" text-anchor="start" font-weight="normal" font-style="normal" fill="#555" stroke="#555" stroke-width="0.202" >100</text>
<line x1="38.50" y1="311.70" x2="40.00" y2="311.70" stroke="#777" stroke-width="0.7" />
<line x1="157.00" y1="311.70" x2="158.50" y2="311.70" stroke="#777" stroke-width="0.7" />
<text x="33.90" y="297.10" font-size="5.6" text-anchor="end" font-weight="normal" font-style="normal" fill="#555" stroke="#555" stroke-width="0.202" >300</text>
<text x="163.10" y="297.10" font-size="5.6" text-anchor="start" font-weight="normal" font-style="normal" fill="#555" stroke="#555" stroke-width="0.202" >150</text>
<polyline points="46.00,343.50 61.00,305.25 76.00,343.50" fill="none" stroke="#000" stroke-width="1.1"/>
<circle cx="46.00" cy="343.50" r="2.7" fill="#000"/>
<circle cx="61.00" cy="305.25" r="2.7" fill="#000"/>
<circle cx="76.00" cy="343.50" r="2.7" fill="#000"/>
<polyline points="105.50,343.50 120.50,332.25 135.50,326.90" fill="none" stroke="#000" stroke-width="1.1"/>
<circle cx="105.50" cy="343.50" r="2.7" fill="#000"/>
<circle cx="120.50" cy="332.25" r="2.7" fill="#000"/>
<circle cx="135.50" cy="326.90" r="2.7" fill="#000"/>
<text x="285.00" y="101.80" font-size="8.3" text-anchor="middle" font-weight="bold" font-style="normal" fill="#000" >Patient #5</text>
<rect x="240.80" y="111.25" width="9.60" height="40.85" fill="url(#dots)" stroke="#444" stroke-width="0.85" />
<line x1="240.40" y1="111.45" x2="250.80" y2="111.45" stroke="#333" stroke-width="1.0" />
<rect x="241.20" y="132.25" width="8.80" height="19.85" fill="#7c7c7c" stroke="none" stroke-width="1" />
<line x1="240.80" y1="132.25" x2="250.40" y2="132.25" stroke="#555" stroke-width="0.6" />
<rect x="301.70" y="108.50" width="9.60" height="43.60" fill="url(#dots)" stroke="#444" stroke-width="0.85" />
<line x1="301.30" y1="108.70" x2="311.70" y2="108.70" stroke="#333" stroke-width="1.0" />
<rect x="302.10" y="142.50" width="8.80" height="9.60" fill="#7c7c7c" stroke="none" stroke-width="1" />
<line x1="301.70" y1="142.50" x2="311.30" y2="142.50" stroke="#555" stroke-width="0.6" />
<rect x="316.70" y="151.00" width="9.60" height="1.10" fill="url(#dots)" stroke="#444" stroke-width="0.85" />
<rect x="223.10" y="103.50" width="120.60" height="48.60" fill="none" stroke="#666" stroke-width="1.0" />
<line x1="285.20" y1="103.50" x2="285.20" y2="152.10" stroke="#5a5a5a" stroke-width="1.0" />
<text x="218.50" y="153.70" font-size="5.6" text-anchor="end" font-weight="normal" font-style="normal" fill="#555" stroke="#555" stroke-width="0.202" >0</text>
<text x="348.30" y="153.70" font-size="5.6" text-anchor="start" font-weight="normal" font-style="normal" fill="#555" stroke="#555" stroke-width="0.202" >0</text>
<text x="218.50" y="137.50" font-size="5.6" text-anchor="end" font-weight="normal" font-style="normal" fill="#555" stroke="#555" stroke-width="0.202" >30</text>
<text x="348.30" y="137.50" font-size="5.6" text-anchor="start" font-weight="normal" font-style="normal" fill="#555" stroke="#555" stroke-width="0.202" >30</text>
<line x1="223.10" y1="135.90" x2="224.60" y2="135.90" stroke="#777" stroke-width="0.7" />
<line x1="342.20" y1="135.90" x2="343.70" y2="135.90" stroke="#777" stroke-width="0.7" />
<text x="218.50" y="121.30" font-size="5.6" text-anchor="end" font-weight="normal" font-style="normal" fill="#555" stroke="#555" stroke-width="0.202" >60</text>
<text x="348.30" y="121.30" font-size="5.6" text-anchor="start" font-weight="normal" font-style="normal" fill="#555" stroke="#555" stroke-width="0.202" >60</text>
<line x1="223.10" y1="119.70" x2="224.60" y2="119.70" stroke="#777" stroke-width="0.7" />
<line x1="342.20" y1="119.70" x2="343.70" y2="119.70" stroke="#777" stroke-width="0.7" />
<text x="218.50" y="105.10" font-size="5.6" text-anchor="end" font-weight="normal" font-style="normal" fill="#555" stroke="#555" stroke-width="0.202" >90</text>
<text x="348.30" y="105.10" font-size="5.6" text-anchor="start" font-weight="normal" font-style="normal" fill="#555" stroke="#555" stroke-width="0.202" >90</text>
<polyline points="230.60,152.00 245.60,119.75 260.60,151.90" fill="none" stroke="#000" stroke-width="1.1"/>
<circle cx="230.60" cy="152.00" r="2.7" fill="#000"/>
<circle cx="245.60" cy="119.75" r="2.7" fill="#000"/>
<circle cx="260.60" cy="151.90" r="2.7" fill="#000"/>
<polyline points="291.50,152.00 306.50,141.00 321.50,118.10" fill="none" stroke="#000" stroke-width="1.1"/>
<circle cx="291.50" cy="152.00" r="2.7" fill="#000"/>
<circle cx="306.50" cy="141.00" r="2.7" fill="#000"/>
<circle cx="321.50" cy="118.10" r="2.7" fill="#000"/>
<text x="285.00" y="165.80" font-size="8.3" text-anchor="middle" font-weight="bold" font-style="normal" fill="#000" >Patient #6</text>
<rect x="240.80" y="172.10" width="9.60" height="44.00" fill="url(#dots)" stroke="#444" stroke-width="0.85" />
<line x1="240.40" y1="172.30" x2="250.80" y2="172.30" stroke="#333" stroke-width="1.0" />
<rect x="240.80" y="172.10" width="9.60" height="1.30" fill="#222" stroke="none" stroke-width="1" />
<rect x="301.70" y="184.75" width="9.60" height="31.35" fill="url(#dots)" stroke="#444" stroke-width="0.85" />
<line x1="301.30" y1="184.95" x2="311.70" y2="184.95" stroke="#333" stroke-width="1.0" />
<rect x="316.70" y="215.00" width="9.60" height="1.10" fill="url(#dots)" stroke="#444" stroke-width="0.85" />
<rect x="223.10" y="167.50" width="120.60" height="48.60" fill="none" stroke="#666" stroke-width="1.0" />
<line x1="285.20" y1="167.50" x2="285.20" y2="216.10" stroke="#5a5a5a" stroke-width="1.0" />
<text x="218.50" y="217.70" font-size="5.6" text-anchor="end" font-weight="normal" font-style="normal" fill="#555" stroke="#555" stroke-width="0.202" >0</text>
<text x="348.30" y="217.70" font-size="5.6" text-anchor="start" font-weight="normal" font-style="normal" fill="#555" stroke="#555" stroke-width="0.202" >0</text>
<text x="218.50" y="201.50" font-size="5.6" text-anchor="end" font-weight="normal" font-style="normal" fill="#555" stroke="#555" stroke-width="0.202" >15</text>
<text x="348.30" y="201.50" font-size="5.6" text-anchor="start" font-weight="normal" font-style="normal" fill="#555" stroke="#555" stroke-width="0.202" >5</text>
<line x1="223.10" y1="199.90" x2="224.60" y2="199.90" stroke="#777" stroke-width="0.7" />
<line x1="342.20" y1="199.90" x2="343.70" y2="199.90" stroke="#777" stroke-width="0.7" />
<text x="218.50" y="185.30" font-size="5.6" text-anchor="end" font-weight="normal" font-style="normal" fill="#555" stroke="#555" stroke-width="0.202" >30</text>
<text x="348.30" y="185.30" font-size="5.6" text-anchor="start" font-weight="normal" font-style="normal" fill="#555" stroke="#555" stroke-width="0.202" >10</text>
<line x1="223.10" y1="183.70" x2="224.60" y2="183.70" stroke="#777" stroke-width="0.7" />
<line x1="342.20" y1="183.70" x2="343.70" y2="183.70" stroke="#777" stroke-width="0.7" />
<text x="218.50" y="169.10" font-size="5.6" text-anchor="end" font-weight="normal" font-style="normal" fill="#555" stroke="#555" stroke-width="0.202" >45</text>
<text x="348.30" y="169.10" font-size="5.6" text-anchor="start" font-weight="normal" font-style="normal" fill="#555" stroke="#555" stroke-width="0.202" >15</text>
<polyline points="230.60,213.75 245.60,196.25 260.60,207.50" fill="none" stroke="#000" stroke-width="1.1"/>
<circle cx="230.60" cy="213.75" r="2.7" fill="#000"/>
<circle cx="245.60" cy="196.25" r="2.7" fill="#000"/>
<circle cx="260.60" cy="207.50" r="2.7" fill="#000"/>
<polyline points="291.50,213.50 306.50,204.75 321.50,176.00" fill="none" stroke="#000" stroke-width="1.1"/>
<circle cx="291.50" cy="213.50" r="2.7" fill="#000"/>
<circle cx="306.50" cy="204.75" r="2.7" fill="#000"/>
<circle cx="321.50" cy="176.00" r="2.7" fill="#000"/>
<text x="285.00" y="229.80" font-size="8.3" text-anchor="middle" font-weight="bold" font-style="normal" fill="#000" >Patient #7</text>
<rect x="240.80" y="279.00" width="9.60" height="1.10" fill="url(#dots)" stroke="#444" stroke-width="0.85" />
<rect x="301.70" y="278.50" width="9.60" height="1.60" fill="url(#dots)" stroke="#444" stroke-width="0.85" />
<rect x="316.70" y="238.40" width="9.60" height="41.70" fill="url(#dots)" stroke="#444" stroke-width="0.85" />
<line x1="316.30" y1="238.60" x2="326.70" y2="238.60" stroke="#333" stroke-width="1.0" />
<rect x="223.10" y="231.50" width="120.60" height="48.60" fill="none" stroke="#666" stroke-width="1.0" />
<line x1="285.20" y1="231.50" x2="285.20" y2="280.10" stroke="#5a5a5a" stroke-width="1.0" />
<text x="218.50" y="281.70" font-size="5.6" text-anchor="end" font-weight="normal" font-style="normal" fill="#555" stroke="#555" stroke-width="0.202" >0</text>
<text x="348.30" y="281.70" font-size="5.6" text-anchor="start" font-weight="normal" font-style="normal" fill="#555" stroke="#555" stroke-width="0.202" >0</text>
<text x="218.50" y="265.50" font-size="5.6" text-anchor="end" font-weight="normal" font-style="normal" fill="#555" stroke="#555" stroke-width="0.202" >40</text>
<text x="348.30" y="265.50" font-size="5.6" text-anchor="start" font-weight="normal" font-style="normal" fill="#555" stroke="#555" stroke-width="0.202" >15</text>
<line x1="223.10" y1="263.90" x2="224.60" y2="263.90" stroke="#777" stroke-width="0.7" />
<line x1="342.20" y1="263.90" x2="343.70" y2="263.90" stroke="#777" stroke-width="0.7" />
<text x="218.50" y="249.30" font-size="5.6" text-anchor="end" font-weight="normal" font-style="normal" fill="#555" stroke="#555" stroke-width="0.202" >80</text>
<text x="348.30" y="249.30" font-size="5.6" text-anchor="start" font-weight="normal" font-style="normal" fill="#555" stroke="#555" stroke-width="0.202" >30</text>
<line x1="223.10" y1="247.70" x2="224.60" y2="247.70" stroke="#777" stroke-width="0.7" />
<line x1="342.20" y1="247.70" x2="343.70" y2="247.70" stroke="#777" stroke-width="0.7" />
<text x="218.50" y="233.10" font-size="5.6" text-anchor="end" font-weight="normal" font-style="normal" fill="#555" stroke="#555" stroke-width="0.202" >120</text>
<text x="348.30" y="233.10" font-size="5.6" text-anchor="start" font-weight="normal" font-style="normal" fill="#555" stroke="#555" stroke-width="0.202" >45</text>
<polyline points="230.60,279.25 245.60,276.25 260.60,278.00" fill="none" stroke="#000" stroke-width="1.1"/>
<circle cx="230.60" cy="279.25" r="2.7" fill="#000"/>
<circle cx="245.60" cy="276.25" r="2.7" fill="#000"/>
<circle cx="260.60" cy="278.00" r="2.7" fill="#000"/>
<polyline points="291.50,279.60 306.50,276.25 321.50,245.00" fill="none" stroke="#000" stroke-width="1.1"/>
<circle cx="291.50" cy="279.60" r="2.7" fill="#000"/>
<circle cx="306.50" cy="276.25" r="2.7" fill="#000"/>
<circle cx="321.50" cy="245.00" r="2.7" fill="#000"/>
<text x="285.00" y="293.80" font-size="8.3" text-anchor="middle" font-weight="bold" font-style="normal" fill="#000" >Patient #8</text>
<rect x="240.80" y="311.50" width="9.60" height="32.60" fill="url(#dots)" stroke="#444" stroke-width="0.85" />
<line x1="240.40" y1="311.70" x2="250.80" y2="311.70" stroke="#333" stroke-width="1.0" />
<rect x="241.20" y="341.50" width="8.80" height="2.60" fill="#7c7c7c" stroke="none" stroke-width="1" />
<line x1="240.80" y1="341.50" x2="250.40" y2="341.50" stroke="#555" stroke-width="0.6" />
<rect x="301.70" y="323.10" width="9.60" height="21.00" fill="url(#dots)" stroke="#444" stroke-width="0.85" />
<line x1="301.30" y1="323.30" x2="311.70" y2="323.30" stroke="#333" stroke-width="1.0" />
<rect x="316.70" y="342.80" width="9.60" height="1.30" fill="url(#dots)" stroke="#444" stroke-width="0.85" />
<rect x="223.10" y="295.50" width="120.60" height="48.60" fill="none" stroke="#666" stroke-width="1.0" />
<line x1="285.20" y1="295.50" x2="285.20" y2="344.10" stroke="#5a5a5a" stroke-width="1.0" />
<text x="218.50" y="345.70" font-size="5.6" text-anchor="end" font-weight="normal" font-style="normal" fill="#555" stroke="#555" stroke-width="0.202" >0</text>
<text x="348.30" y="345.70" font-size="5.6" text-anchor="start" font-weight="normal" font-style="normal" fill="#555" stroke="#555" stroke-width="0.202" >0</text>
<text x="218.50" y="329.50" font-size="5.6" text-anchor="end" font-weight="normal" font-style="normal" fill="#555" stroke="#555" stroke-width="0.202" >15</text>
<text x="348.30" y="329.50" font-size="5.6" text-anchor="start" font-weight="normal" font-style="normal" fill="#555" stroke="#555" stroke-width="0.202" >3</text>
<line x1="223.10" y1="327.90" x2="224.60" y2="327.90" stroke="#777" stroke-width="0.7" />
<line x1="342.20" y1="327.90" x2="343.70" y2="327.90" stroke="#777" stroke-width="0.7" />
<text x="218.50" y="313.30" font-size="5.6" text-anchor="end" font-weight="normal" font-style="normal" fill="#555" stroke="#555" stroke-width="0.202" >30</text>
<text x="348.30" y="313.30" font-size="5.6" text-anchor="start" font-weight="normal" font-style="normal" fill="#555" stroke="#555" stroke-width="0.202" >6</text>
<line x1="223.10" y1="311.70" x2="224.60" y2="311.70" stroke="#777" stroke-width="0.7" />
<line x1="342.20" y1="311.70" x2="343.70" y2="311.70" stroke="#777" stroke-width="0.7" />
<text x="218.50" y="297.10" font-size="5.6" text-anchor="end" font-weight="normal" font-style="normal" fill="#555" stroke="#555" stroke-width="0.202" >45</text>
<text x="348.30" y="297.10" font-size="5.6" text-anchor="start" font-weight="normal" font-style="normal" fill="#555" stroke="#555" stroke-width="0.202" >9</text>
<polyline points="230.60,338.50 245.60,323.50 260.60,344.00" fill="none" stroke="#000" stroke-width="1.1"/>
<circle cx="230.60" cy="338.50" r="2.7" fill="#000"/>
<circle cx="245.60" cy="323.50" r="2.7" fill="#000"/>
<circle cx="260.60" cy="344.00" r="2.7" fill="#000"/>
<polyline points="291.50,338.50 306.50,330.25 321.50,306.90" fill="none" stroke="#000" stroke-width="1.1"/>
<circle cx="291.50" cy="338.50" r="2.7" fill="#000"/>
<circle cx="306.50" cy="330.25" r="2.7" fill="#000"/>
<circle cx="321.50" cy="306.90" r="2.7" fill="#000"/>
<text x="47.10" y="351.70" font-size="6.3" text-anchor="middle" font-weight="normal" font-style="normal" fill="#222" stroke="#222" stroke-width="0.227" >pre</text>
<text x="62.10" y="351.70" font-size="6.3" text-anchor="middle" font-weight="normal" font-style="normal" fill="#222" stroke="#222" stroke-width="0.227" >1st</text>
<text x="77.10" y="351.70" font-size="6.3" text-anchor="middle" font-weight="normal" font-style="normal" fill="#222" stroke="#222" stroke-width="0.227" >2nd</text>
<text x="92.10" y="351.70" font-size="6.3" text-anchor="middle" font-weight="normal" font-style="normal" fill="#222" stroke="#222" stroke-width="0.227" >3rd</text>
<text x="106.60" y="351.70" font-size="6.3" text-anchor="middle" font-weight="normal" font-style="normal" fill="#222" stroke="#222" stroke-width="0.227" >pre</text>
<text x="121.60" y="351.70" font-size="6.3" text-anchor="middle" font-weight="normal" font-style="normal" fill="#222" stroke="#222" stroke-width="0.227" >1st</text>
<text x="136.60" y="351.70" font-size="6.3" text-anchor="middle" font-weight="normal" font-style="normal" fill="#222" stroke="#222" stroke-width="0.227" >2nd</text>
<text x="151.60" y="351.70" font-size="6.3" text-anchor="middle" font-weight="normal" font-style="normal" fill="#222" stroke="#222" stroke-width="0.227" >3rd</text>
<text x="70.00" y="362.80" font-size="8.4" text-anchor="middle" font-weight="normal" font-style="normal" fill="#222" stroke="#222" stroke-width="0.302" >pMXs.IG</text>
<text x="129.50" y="362.80" font-size="8.4" text-anchor="middle" font-weight="normal" font-style="normal" fill="#222" stroke="#222" stroke-width="0.302" >D171N</text>
<text x="231.70" y="351.70" font-size="6.3" text-anchor="middle" font-weight="normal" font-style="normal" fill="#222" stroke="#222" stroke-width="0.227" >pre</text>
<text x="246.70" y="351.70" font-size="6.3" text-anchor="middle" font-weight="normal" font-style="normal" fill="#222" stroke="#222" stroke-width="0.227" >1st</text>
<text x="261.70" y="351.70" font-size="6.3" text-anchor="middle" font-weight="normal" font-style="normal" fill="#222" stroke="#222" stroke-width="0.227" >2nd</text>
<text x="276.70" y="351.70" font-size="6.3" text-anchor="middle" font-weight="normal" font-style="normal" fill="#222" stroke="#222" stroke-width="0.227" >3rd</text>
<text x="292.60" y="351.70" font-size="6.3" text-anchor="middle" font-weight="normal" font-style="normal" fill="#222" stroke="#222" stroke-width="0.227" >pre</text>
<text x="307.60" y="351.70" font-size="6.3" text-anchor="middle" font-weight="normal" font-style="normal" fill="#222" stroke="#222" stroke-width="0.227" >1st</text>
<text x="322.60" y="351.70" font-size="6.3" text-anchor="middle" font-weight="normal" font-style="normal" fill="#222" stroke="#222" stroke-width="0.227" >2nd</text>
<text x="337.60" y="351.70" font-size="6.3" text-anchor="middle" font-weight="normal" font-style="normal" fill="#222" stroke="#222" stroke-width="0.227" >3rd</text>
<text x="254.60" y="362.80" font-size="8.4" text-anchor="middle" font-weight="normal" font-style="normal" fill="#222" stroke="#222" stroke-width="0.302" >pMXs.IG</text>
<text x="315.50" y="362.80" font-size="8.4" text-anchor="middle" font-weight="normal" font-style="normal" fill="#222" stroke="#222" stroke-width="0.302" >D171N</text>
<text x="0.00" y="0.00" font-size="10.6" text-anchor="middle" font-weight="normal" font-style="normal" fill="#222" stroke="#222" stroke-width="0.382" transform="translate(9.70,225.00) rotate(-90)">Colonies per 10<tspan dy="-3.5" font-size="6.5">4</tspan><tspan dy="3.5"> cells</tspan></text>
<text x="0.00" y="0.00" font-size="10.6" text-anchor="middle" font-weight="normal" font-style="normal" fill="#222" stroke="#222" stroke-width="0.382" transform="translate(188.40,225.00) rotate(-90)">Proliferation fold</text>
<text x="0.00" y="0.00" font-size="10.6" text-anchor="middle" font-weight="normal" font-style="normal" fill="#222" stroke="#222" stroke-width="0.382" transform="translate(207.60,225.00) rotate(-90)">Colonies per 10<tspan dy="-3.5" font-size="6.5">4</tspan><tspan dy="3.5"> cells</tspan></text>
<text x="0.00" y="0.00" font-size="10.6" text-anchor="middle" font-weight="normal" font-style="normal" fill="#222" stroke="#222" stroke-width="0.382" transform="translate(373.00,225.00) rotate(-90)">Proliferation fold</text>
<rect x="372.50" y="117.30" width="22.10" height="5.40" fill="#333" stroke="none" stroke-width="1" />
<rect x="372.50" y="133.00" width="22.10" height="4.50" fill="url(#dots)" stroke="#000" stroke-width="0.9" />
<rect x="372.50" y="148.00" width="22.10" height="5.50" fill="#808080" stroke="none" stroke-width="1" />
<line x1="372.00" y1="165.40" x2="394.60" y2="165.40" stroke="#000" stroke-width="1" />
<circle cx="383.30" cy="165.40" r="2.1" fill="#000"/>
<text x="397.00" y="122.80" font-size="8.3" text-anchor="start" font-weight="normal" font-style="normal" fill="#222" stroke="#222" stroke-width="0.299" >GEMM</text>
<text x="397.00" y="138.00" font-size="8.3" text-anchor="start" font-weight="normal" font-style="normal" fill="#222" stroke="#222" stroke-width="0.299" >CFU-GM</text>
<text x="397.00" y="153.50" font-size="8.3" text-anchor="start" font-weight="normal" font-style="normal" fill="#222" stroke="#222" stroke-width="0.299" >BFU-E</text>
<text x="397.00" y="168.50" font-size="8.3" text-anchor="start" font-weight="normal" font-style="normal" fill="#222" stroke="#222" stroke-width="0.299" >proliferation</text>
<text x="0.30" y="383.70" font-size="11" text-anchor="start" font-weight="bold" font-style="normal" fill="#000" >E</text>
<line x1="46.90" y1="461.50" x2="155.60" y2="461.50" stroke="#7a7a7a" stroke-width="1.0" />
<text x="40.60" y="464.50" font-size="8.4" text-anchor="end" font-weight="normal" font-style="normal" fill="#222" stroke="#222" stroke-width="0.302" >0</text>
<line x1="46.90" y1="435.50" x2="155.60" y2="435.50" stroke="#7a7a7a" stroke-width="1.0" />
<text x="40.60" y="438.50" font-size="8.4" text-anchor="end" font-weight="normal" font-style="normal" fill="#222" stroke="#222" stroke-width="0.302" >5</text>
<line x1="46.90" y1="409.50" x2="155.60" y2="409.50" stroke="#7a7a7a" stroke-width="1.0" />
<text x="40.60" y="412.50" font-size="8.4" text-anchor="end" font-weight="normal" font-style="normal" fill="#222" stroke="#222" stroke-width="0.302" >10</text>
<line x1="46.90" y1="383.50" x2="155.60" y2="383.50" stroke="#7a7a7a" stroke-width="1.0" />
<text x="40.60" y="386.50" font-size="8.4" text-anchor="end" font-weight="normal" font-style="normal" fill="#222" stroke="#222" stroke-width="0.302" >15</text>
<line x1="46.90" y1="383.50" x2="46.90" y2="461.50" stroke="#7a7a7a" stroke-width="1.0" />
<line x1="155.60" y1="383.50" x2="155.60" y2="461.50" stroke="#7a7a7a" stroke-width="1.0" />
<rect x="57.75" y="452.25" width="16.25" height="9.25" fill="#cdcdcd" stroke="#888" stroke-width="0.7" />
<rect x="74.00" y="405.60" width="14.75" height="55.90" fill="#333333" stroke="none" stroke-width="1" />
<rect x="112.25" y="459.00" width="15.85" height="2.50" fill="#cdcdcd" stroke="#888" stroke-width="0.7" />
<rect x="128.10" y="405.60" width="14.80" height="55.90" fill="#333333" stroke="none" stroke-width="1" />
<rect x="66.60" y="391.90" width="4.40" height="4.40" fill="#cdcdcd" stroke="#777" stroke-width="0.7" />
<text x="75.00" y="397.00" font-size="8.2" text-anchor="start" font-weight="normal" font-style="normal" fill="#222" stroke="#222" stroke-width="0.295" >pMXs-IG</text>
<rect x="111.30" y="391.90" width="4.30" height="4.40" fill="#333333" stroke="none" stroke-width="1" />
<text x="119.75" y="397.00" font-size="8.2" text-anchor="start" font-weight="normal" font-style="normal" fill="#222" stroke="#222" stroke-width="0.295" >D171N</text>
<text x="74.30" y="477.30" font-size="8.1" text-anchor="middle" font-weight="normal" font-style="normal" fill="#222" stroke="#222" stroke-width="0.292" >Patient #1</text>
<text x="128.80" y="477.30" font-size="8.1" text-anchor="middle" font-weight="normal" font-style="normal" fill="#222" stroke="#222" stroke-width="0.292" >Patient #5</text>
<text x="0.00" y="0.00" font-size="8.5" text-anchor="middle" font-weight="normal" font-style="normal" fill="#222" stroke="#222" stroke-width="0.306" transform="translate(25.40,423.80) rotate(-90)">CD34 positive cells (%)</text>
<text x="184.00" y="384.50" font-size="11" text-anchor="start" font-weight="bold" font-style="normal" fill="#000" >F</text>
<line x1="227.25" y1="461.50" x2="429.75" y2="461.50" stroke="#7a7a7a" stroke-width="1.0" />
<text x="221.30" y="464.50" font-size="8.2" text-anchor="end" font-weight="normal" font-style="normal" fill="#222" stroke="#222" stroke-width="0.295" >0</text>
<line x1="227.25" y1="435.50" x2="429.75" y2="435.50" stroke="#7a7a7a" stroke-width="1.0" />
<text x="221.30" y="438.50" font-size="8.2" text-anchor="end" font-weight="normal" font-style="normal" fill="#222" stroke="#222" stroke-width="0.295" >10</text>
<line x1="227.25" y1="409.50" x2="429.75" y2="409.50" stroke="#7a7a7a" stroke-width="1.0" />
<text x="221.30" y="412.50" font-size="8.2" text-anchor="end" font-weight="normal" font-style="normal" fill="#222" stroke="#222" stroke-width="0.295" >20</text>
<line x1="227.25" y1="383.50" x2="429.75" y2="383.50" stroke="#7a7a7a" stroke-width="1.0" />
<text x="221.30" y="386.50" font-size="8.2" text-anchor="end" font-weight="normal" font-style="normal" fill="#222" stroke="#222" stroke-width="0.295" >30</text>
<line x1="227.25" y1="383.50" x2="227.25" y2="461.50" stroke="#7a7a7a" stroke-width="1.0" />
<line x1="429.75" y1="383.50" x2="429.75" y2="461.50" stroke="#7a7a7a" stroke-width="1.0" />
<rect x="232.11" y="458.38" width="9.60" height="3.12" fill="#cdcdcd" stroke="#888" stroke-width="0.7" />
<rect x="241.71" y="448.50" width="9.60" height="13.00" fill="#333333" stroke="none" stroke-width="1" />
<text x="241.71" y="476.60" font-size="8.0" text-anchor="middle" font-weight="normal" font-style="normal" fill="#222" stroke="#222" stroke-width="0.288" >#1</text>
<rect x="261.04" y="451.36" width="9.60" height="10.14" fill="#cdcdcd" stroke="#888" stroke-width="0.7" />
<rect x="270.64" y="390.78" width="9.60" height="70.72" fill="#333333" stroke="none" stroke-width="1" />
<text x="270.64" y="476.60" font-size="8.0" text-anchor="middle" font-weight="normal" font-style="normal" fill="#222" stroke="#222" stroke-width="0.288" >#2</text>
<rect x="289.97" y="457.34" width="9.60" height="4.16" fill="#cdcdcd" stroke="#888" stroke-width="0.7" />
<rect x="299.57" y="423.02" width="9.60" height="38.48" fill="#333333" stroke="none" stroke-width="1" />
<text x="299.57" y="476.60" font-size="8.0" text-anchor="middle" font-weight="normal" font-style="normal" fill="#222" stroke="#222" stroke-width="0.288" >#3</text>
<rect x="318.90" y="460.72" width="9.60" height="0.78" fill="#cdcdcd" stroke="#888" stroke-width="0.7" />
<rect x="328.50" y="414.96" width="9.60" height="46.54" fill="#333333" stroke="none" stroke-width="1" />
<text x="328.50" y="476.60" font-size="8.0" text-anchor="middle" font-weight="normal" font-style="normal" fill="#222" stroke="#222" stroke-width="0.288" >#4</text>
<rect x="347.83" y="439.66" width="9.60" height="21.84" fill="#cdcdcd" stroke="#888" stroke-width="0.7" />
<rect x="357.43" y="404.56" width="9.60" height="56.94" fill="#333333" stroke="none" stroke-width="1" />
<text x="357.43" y="476.60" font-size="8.0" text-anchor="middle" font-weight="normal" font-style="normal" fill="#222" stroke="#222" stroke-width="0.288" >#6</text>
<rect x="376.76" y="459.16" width="9.60" height="2.34" fill="#cdcdcd" stroke="#888" stroke-width="0.7" />
<rect x="386.36" y="426.14" width="9.60" height="35.36" fill="#333333" stroke="none" stroke-width="1" />
<text x="386.36" y="476.60" font-size="8.0" text-anchor="middle" font-weight="normal" font-style="normal" fill="#222" stroke="#222" stroke-width="0.288" >#7</text>
<rect x="405.69" y="459.68" width="9.60" height="1.82" fill="#cdcdcd" stroke="#888" stroke-width="0.7" />
<rect x="415.29" y="443.04" width="9.60" height="18.46" fill="#333333" stroke="none" stroke-width="1" />
<text x="415.29" y="476.60" font-size="8.0" text-anchor="middle" font-weight="normal" font-style="normal" fill="#222" stroke="#222" stroke-width="0.288" >#8</text>
<rect x="348.10" y="391.50" width="5.00" height="4.50" fill="#cdcdcd" stroke="#777" stroke-width="0.7" />
<text x="356.90" y="396.80" font-size="8.2" text-anchor="start" font-weight="normal" font-style="normal" fill="#222" stroke="#222" stroke-width="0.295" >pMXs-IG</text>
<rect x="393.10" y="391.50" width="5.00" height="4.50" fill="#333333" stroke="none" stroke-width="1" />
<text x="401.50" y="396.80" font-size="8.2" text-anchor="start" font-weight="normal" font-style="normal" fill="#222" stroke="#222" stroke-width="0.295" >D171N</text>
<text x="313.30" y="488.20" font-size="10.4" text-anchor="middle" font-weight="normal" font-style="normal" fill="#222" stroke="#222" stroke-width="0.374" >Patient number</text>
<text x="0.00" y="0.00" font-size="8.5" text-anchor="middle" font-weight="normal" font-style="normal" fill="#222" stroke="#222" stroke-width="0.306" transform="translate(206.00,423.80) rotate(-90)">CD34 positive cells (%)</text>
<text x="0.20" y="509.60" font-size="11" text-anchor="start" font-weight="bold" font-style="normal" fill="#000" >G</text>
<line x1="61.50" y1="599.50" x2="262.80" y2="599.50" stroke="#7a7a7a" stroke-width="1.0" />
<text x="55.00" y="601.70" font-size="8.2" text-anchor="end" font-weight="normal" font-style="normal" fill="#222" stroke="#222" stroke-width="0.295" >0</text>
<line x1="61.50" y1="580.90" x2="262.80" y2="580.90" stroke="#7a7a7a" stroke-width="1.0" />
<text x="55.00" y="583.10" font-size="8.2" text-anchor="end" font-weight="normal" font-style="normal" fill="#222" stroke="#222" stroke-width="0.295" >100</text>
<line x1="61.50" y1="562.30" x2="262.80" y2="562.30" stroke="#7a7a7a" stroke-width="1.0" />
<text x="55.00" y="564.50" font-size="8.2" text-anchor="end" font-weight="normal" font-style="normal" fill="#222" stroke="#222" stroke-width="0.295" >200</text>
<line x1="61.50" y1="543.70" x2="262.80" y2="543.70" stroke="#7a7a7a" stroke-width="1.0" />
<text x="55.00" y="545.90" font-size="8.2" text-anchor="end" font-weight="normal" font-style="normal" fill="#222" stroke="#222" stroke-width="0.295" >300</text>
<line x1="61.50" y1="525.10" x2="262.80" y2="525.10" stroke="#7a7a7a" stroke-width="1.0" />
<text x="55.00" y="527.30" font-size="8.2" text-anchor="end" font-weight="normal" font-style="normal" fill="#222" stroke="#222" stroke-width="0.295" >400</text>
<line x1="61.50" y1="506.50" x2="262.80" y2="506.50" stroke="#7a7a7a" stroke-width="1.0" />
<text x="55.00" y="508.70" font-size="8.2" text-anchor="end" font-weight="normal" font-style="normal" fill="#222" stroke="#222" stroke-width="0.295" >500</text>
<line x1="61.50" y1="506.50" x2="61.50" y2="599.50" stroke="#7a7a7a" stroke-width="1.0" />
<line x1="262.80" y1="506.50" x2="262.80" y2="599.50" stroke="#7a7a7a" stroke-width="1.0" />
<rect x="76.05" y="593.10" width="19.20" height="6.40" fill="#cdcdcd" stroke="#888" stroke-width="0.7" />
<rect x="95.25" y="531.25" width="19.20" height="68.25" fill="#333333" stroke="none" stroke-width="1" />
<line x1="104.85" y1="527.40" x2="104.85" y2="531.25" stroke="#777" stroke-width="0.9" />
<line x1="101.85" y1="527.40" x2="107.85" y2="527.40" stroke="#777" stroke-width="0.9" />
<line x1="83.65" y1="591.30" x2="88.65" y2="591.30" stroke="#999" stroke-width="0.8" />
<polyline points="86.15,591.20 86.15,519.50 105.65,519.50 105.65,525.90" fill="none" stroke="#000" stroke-width="0.9"/>
<text x="81.50" y="516.90" font-size="7.5" text-anchor="start" font-weight="normal" font-style="normal" fill="#111" stroke="#111" stroke-width="0.27" ><tspan font-weight="bold" font-style="italic">P</tspan> = .002</text>
<text x="95.25" y="614.30" font-size="8.1" text-anchor="middle" font-weight="normal" font-style="normal" fill="#222" stroke="#222" stroke-width="0.292" >Patient #1</text>
<rect x="142.70" y="594.75" width="19.20" height="4.75" fill="#cdcdcd" stroke="#888" stroke-width="0.7" />
<rect x="161.90" y="560.10" width="19.20" height="39.40" fill="#333333" stroke="none" stroke-width="1" />
<line x1="171.50" y1="554.80" x2="171.50" y2="560.10" stroke="#777" stroke-width="0.9" />
<line x1="168.50" y1="554.80" x2="174.50" y2="554.80" stroke="#777" stroke-width="0.9" />
<line x1="150.30" y1="592.95" x2="155.30" y2="592.95" stroke="#999" stroke-width="0.8" />
<polyline points="152.80,590.60 152.80,548.10 172.30,548.10 172.30,553.30" fill="none" stroke="#000" stroke-width="0.9"/>
<text x="147.80" y="543.80" font-size="7.5" text-anchor="start" font-weight="normal" font-style="normal" fill="#111" stroke="#111" stroke-width="0.27" ><tspan font-weight="bold" font-style="italic">P</tspan> = .011</text>
<text x="161.90" y="614.30" font-size="8.1" text-anchor="middle" font-weight="normal" font-style="normal" fill="#222" stroke="#222" stroke-width="0.292" >Patient #2</text>
<rect x="209.30" y="594.20" width="19.20" height="5.30" fill="#cdcdcd" stroke="#888" stroke-width="0.7" />
<rect x="228.50" y="562.50" width="19.20" height="37.00" fill="#333333" stroke="none" stroke-width="1" />
<line x1="238.10" y1="554.20" x2="238.10" y2="562.50" stroke="#777" stroke-width="0.9" />
<line x1="235.10" y1="554.20" x2="241.10" y2="554.20" stroke="#777" stroke-width="0.9" />
<line x1="216.90" y1="592.40" x2="221.90" y2="592.40" stroke="#999" stroke-width="0.8" />
<polyline points="219.40,587.20 219.40,545.40 238.90,545.40 238.90,552.70" fill="none" stroke="#000" stroke-width="0.9"/>
<text x="214.20" y="541.80" font-size="7.5" text-anchor="start" font-weight="normal" font-style="normal" fill="#111" stroke="#111" stroke-width="0.27" ><tspan font-weight="bold" font-style="italic">P</tspan> = .029</text>
<text x="228.50" y="614.30" font-size="8.1" text-anchor="middle" font-weight="normal" font-style="normal" fill="#222" stroke="#222" stroke-width="0.292" >Patient #3</text>
<rect x="174.40" y="514.50" width="4.40" height="4.40" fill="#cdcdcd" stroke="#777" stroke-width="0.7" />
<text x="182.30" y="519.30" font-size="8.3" text-anchor="start" font-weight="normal" font-style="normal" fill="#222" stroke="#222" stroke-width="0.299" >pMXs.IG</text>
<rect x="217.70" y="514.50" width="4.60" height="4.40" fill="#333333" stroke="none" stroke-width="1" />
<text x="226.20" y="519.30" font-size="8.3" text-anchor="start" font-weight="normal" font-style="normal" fill="#222" stroke="#222" stroke-width="0.299" >D171N</text>
<text x="0.00" y="0.00" font-size="8.5" text-anchor="middle" font-weight="normal" font-style="normal" fill="#222" stroke="#222" stroke-width="0.306" transform="translate(28.60,557.20) rotate(-90)">LTC-IC per 10<tspan dy="-3" font-size="5.5">4</tspan><tspan dy="3"> input cells</tspan></text></svg>
</body></html>
